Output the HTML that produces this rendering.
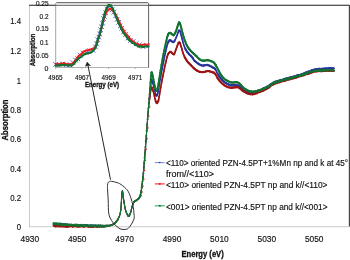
<!DOCTYPE html>
<html><head><meta charset="utf-8"><title>XANES</title>
<style>html,body{margin:0;padding:0;background:#fff;overflow:hidden}body{width:350px;height:260px;font-family:"Liberation Sans",sans-serif}text{stroke:#111;stroke-width:.15px}text[font-weight=bold]{stroke-width:.3px}</style></head>
<body>
<svg width="350" height="260" viewBox="0 0 350 260" style="display:block;will-change:transform" font-family="'Liberation Sans', sans-serif" fill="#111">
<rect width="350" height="260" fill="#fff"/>
<path d="M29.5,5.3 V226.8 H349" fill="none" stroke="#cbcbcb" stroke-width="1.1"/>
<path d="M29,5.3 H349.4" fill="none" stroke="#4a4a4a" stroke-width="0.9"/>
<path d="M349.45,4.9 V226.6" fill="none" stroke="#454545" stroke-width="1.3"/>
<text x="21.1" y="230.4" font-size="8.4" text-anchor="end" font-weight="normal" textLength="4.3" lengthAdjust="spacingAndGlyphs" >0</text>
<text x="21.1" y="201.0" font-size="8.4" text-anchor="end" font-weight="normal" textLength="10.9" lengthAdjust="spacingAndGlyphs" >0.2</text>
<text x="21.1" y="171.6" font-size="8.4" text-anchor="end" font-weight="normal" textLength="10.9" lengthAdjust="spacingAndGlyphs" >0.4</text>
<text x="21.1" y="142.20000000000002" font-size="8.4" text-anchor="end" font-weight="normal" textLength="10.9" lengthAdjust="spacingAndGlyphs" >0.6</text>
<text x="21.1" y="113.30000000000001" font-size="8.4" text-anchor="end" font-weight="normal" textLength="10.9" lengthAdjust="spacingAndGlyphs" >0.8</text>
<text x="21.1" y="83.7" font-size="8.4" text-anchor="end" font-weight="normal" textLength="4.3" lengthAdjust="spacingAndGlyphs" >1</text>
<text x="21.1" y="54.4" font-size="8.4" text-anchor="end" font-weight="normal" textLength="10.9" lengthAdjust="spacingAndGlyphs" >1.2</text>
<text x="21.1" y="24.299999999999997" font-size="8.4" text-anchor="end" font-weight="normal" textLength="10.9" lengthAdjust="spacingAndGlyphs" >1.4</text>
<text x="29.8" y="242.2" font-size="8.4" text-anchor="middle" font-weight="normal" textLength="18.6" lengthAdjust="spacingAndGlyphs" >4930</text>
<text x="77.2" y="242.2" font-size="8.4" text-anchor="middle" font-weight="normal" textLength="18.6" lengthAdjust="spacingAndGlyphs" >4950</text>
<text x="124.6" y="242.2" font-size="8.4" text-anchor="middle" font-weight="normal" textLength="18.6" lengthAdjust="spacingAndGlyphs" >4970</text>
<text x="172" y="242.2" font-size="8.4" text-anchor="middle" font-weight="normal" textLength="18.6" lengthAdjust="spacingAndGlyphs" >4990</text>
<text x="219.4" y="242.2" font-size="8.4" text-anchor="middle" font-weight="normal" textLength="18.6" lengthAdjust="spacingAndGlyphs" >5010</text>
<text x="266.8" y="242.2" font-size="8.4" text-anchor="middle" font-weight="normal" textLength="18.6" lengthAdjust="spacingAndGlyphs" >5030</text>
<text x="314.2" y="242.2" font-size="8.4" text-anchor="middle" font-weight="normal" textLength="18.6" lengthAdjust="spacingAndGlyphs" >5050</text>
<text x="202.6" y="257.3" font-size="8.8" text-anchor="middle" font-weight="bold" textLength="42.3" lengthAdjust="spacingAndGlyphs" >Energy (eV)</text>
<text transform="translate(7.6,120) rotate(-90)" font-size="8.8" text-anchor="middle" font-weight="bold" textLength="41" lengthAdjust="spacingAndGlyphs">Absorption</text>
<path d="M53.63,224.49 L54.05,224.25 L54.47,225.00 L54.89,224.94 L55.31,224.81 L55.73,224.46 L56.15,224.03 L56.57,224.26 L56.99,223.78 L57.41,223.70 L57.83,224.10 L58.25,224.04 L58.67,223.66 L59.09,224.12 L59.51,223.81 L59.93,224.51 L60.35,224.62 L60.77,224.26 L61.19,224.68 L61.61,223.88 L62.03,224.39 L62.45,223.94 L62.87,224.38 L63.29,224.05 L63.71,224.12 L64.13,224.67 L64.55,224.30 L64.97,224.20 L65.39,224.35 L65.81,224.52 L66.23,224.68 L66.65,224.41 L67.07,224.92 L67.49,224.77 L67.91,224.82 L68.33,224.71 L68.75,225.18 L69.17,224.97 L69.59,224.53 L70.01,225.15 L70.43,225.46 L70.85,224.97 L71.27,225.42 L71.69,224.83 L72.11,225.10 L72.53,224.97 L72.95,225.00 L73.37,225.39 L73.79,225.14 L74.21,225.62 L74.63,225.19 L75.05,224.70 L75.47,225.03 L75.89,225.58 L76.31,225.11 L76.73,224.71 L77.15,224.97 L77.57,224.79 L77.99,225.82 L78.41,225.81 L78.83,225.64 L79.25,225.44 L79.67,225.64 L80.09,225.00 L80.51,225.15 L80.93,225.42 L81.35,225.25 L81.77,224.92 L82.19,225.97 L82.61,225.39 L83.03,225.47 L83.45,225.29 L83.87,225.24 L84.29,225.39 L84.71,225.89 L85.13,225.80 L85.55,225.42 L85.97,225.04 L86.39,225.91 L86.81,225.35 L87.23,225.70 L87.65,225.11 L88.07,225.82 L88.49,225.53 L88.91,225.66 L89.33,225.59 L89.75,225.53 L90.17,225.76 L90.59,226.24 L91.01,225.30 L91.43,225.53 L91.85,225.25 L92.27,226.02 L92.69,225.94 L93.11,225.46 L93.53,225.70 L93.95,225.95 L94.37,225.98 L94.79,225.45 L95.21,226.24 L95.63,226.13 L96.05,225.43 L96.47,226.25 L96.89,226.12 L97.31,226.18 L97.73,225.91 L98.15,225.56 L98.57,226.34 L98.99,225.98 L99.41,225.72 L99.83,225.64 L100.25,226.36 L100.67,225.83 L101.09,225.98 L101.51,226.07 L101.93,226.33 L102.35,226.13 L102.77,225.66 L103.19,226.14 L103.61,226.04 L104.03,226.12 L104.45,226.29 L104.87,225.78 L105.29,225.91 L105.71,225.85 L106.13,225.89 L106.55,225.73 L106.97,225.96 L107.39,225.77 L107.81,225.68 L108.23,225.58 L108.65,225.61 L109.07,225.51 L109.49,225.47 L109.91,225.47 L110.33,225.41 L110.75,225.44 L111.17,225.39 L111.59,224.84 L112.01,224.76 L112.43,224.76 L112.85,224.34 L113.27,224.42 L113.69,223.87 L114.11,223.81 L114.53,223.45 L114.95,223.16 L115.37,222.42 L115.79,222.08 L116.21,221.82 L116.63,221.04 L117.05,220.45 L117.47,219.97 L117.89,219.37 L118.31,218.35 L118.73,217.49 L119.15,216.49 L119.57,215.52 L119.99,214.28 L120.41,212.26 L120.83,209.85 L121.25,203.74 L121.67,197.45 L122.09,192.07 L122.51,190.93 L122.93,194.04 L123.35,197.72 L123.77,200.50 L124.19,203.16 L124.61,205.59 L125.03,207.81 L125.45,209.69 L125.87,210.95 L126.29,212.17 L126.71,213.27 L127.13,214.23 L127.55,215.02 L127.97,215.77 L128.39,216.14 L128.81,216.28 L129.23,215.52 L129.65,214.82 L130.07,214.00 L130.49,212.97 L130.91,211.49 L131.33,209.93 L131.75,207.88 L132.17,206.50 L132.59,205.00 L133.01,203.94 L133.43,203.43 L133.85,202.29 L134.27,201.92 L134.69,201.28 L135.11,200.90 L135.53,200.70 L135.95,200.68 L136.37,200.29 L136.79,200.20 L137.21,199.84 L137.63,199.42 L138.05,199.12 L138.47,198.68 L138.89,198.20 L139.31,197.82 L139.73,197.03 L140.15,195.99 L140.57,194.36 L140.99,192.52 L141.41,190.15 L141.83,186.98 L142.25,183.45 L142.67,179.82 L143.09,176.05 L143.51,171.45 L143.93,166.77 L144.35,161.51 L144.77,155.99 L145.19,150.70 L145.61,145.36 L146.03,139.92 L146.45,134.17 L146.87,128.94 L147.29,123.30 L147.71,117.13 L148.13,111.72 L148.55,107.04 L148.97,102.46 L149.39,98.42" fill="none" stroke="#28339c" stroke-width="1.0" stroke-linejoin="round" stroke-linecap="round"/><path d="M149.39,98.42 L149.81,94.07 L150.23,89.73 L150.65,85.57 L151.07,81.03 L151.49,79.05 L151.91,80.08 L152.33,81.41 L152.75,82.93 L153.17,84.13 L153.59,85.51 L154.01,87.47 L154.43,89.24 L154.85,91.12 L155.27,93.16 L155.69,94.45 L156.11,95.21 L156.53,95.68 L156.95,95.47 L157.37,94.21 L157.79,93.12 L158.21,91.09 L158.63,88.38 L159.05,86.10 L159.47,83.38 L159.89,80.79 L160.31,78.64 L160.73,76.26 L161.15,73.94 L161.57,71.65 L161.99,69.47 L162.41,67.36 L162.83,65.25 L163.25,62.83 L163.67,60.96 L164.09,58.59 L164.51,56.57 L164.93,54.81 L165.35,52.94 L165.77,51.11 L166.19,49.17 L166.61,47.39 L167.03,45.63 L167.45,44.40 L167.87,43.00 L168.29,42.14 L168.71,41.38 L169.13,40.82 L169.55,40.19 L169.97,40.35 L170.39,40.39 L170.81,40.48 L171.23,40.75 L171.65,41.16 L172.07,41.61 L172.49,41.95 L172.91,42.08 L173.33,42.14 L173.75,41.79 L174.17,41.60 L174.59,40.81 L175.01,39.89 L175.43,39.29 L175.85,38.30 L176.27,37.19 L176.69,36.22 L177.11,35.19 L177.53,33.91 L177.95,32.77 L178.37,31.70 L178.79,30.67 L179.21,30.67 L179.63,30.55 L180.05,31.55 L180.47,32.70 L180.89,34.22 L181.31,35.93 L181.73,37.21 L182.15,39.08 L182.57,40.52 L182.99,42.11 L183.41,43.74 L183.83,45.04 L184.25,46.00 L184.67,47.42 L185.09,48.29 L185.51,49.11 L185.93,49.83 L186.35,50.51 L186.77,51.42 L187.19,51.90 L187.61,52.40 L188.03,52.73 L188.45,53.35 L188.87,54.17 L189.29,54.49 L189.71,54.85 L190.13,55.11 L190.55,55.61 L190.97,56.01 L191.39,56.39 L191.81,56.91 L192.23,57.35 L192.65,57.88 L193.07,58.55 L193.49,59.38 L193.91,59.79 L194.33,60.70 L194.75,60.82 L195.17,61.32 L195.59,61.66 L196.01,61.95 L196.43,62.29 L196.85,62.56 L197.27,62.89 L197.69,63.11 L198.11,63.64 L198.53,63.89 L198.95,64.00 L199.37,64.49 L199.79,64.49 L200.21,64.79 L200.63,64.92 L201.05,64.98 L201.47,65.37 L201.89,65.43 L202.31,65.51 L202.73,65.62 L203.15,65.24 L203.57,65.49 L203.99,65.70 L204.41,65.30 L204.83,65.27 L205.25,65.29 L205.67,65.25 L206.09,65.00 L206.51,64.90 L206.93,65.06 L207.35,64.74 L207.77,65.12 L208.19,65.07 L208.61,65.31 L209.03,65.52 L209.45,65.45 L209.87,66.02 L210.29,66.21 L210.71,66.25 L211.13,66.41 L211.55,66.60 L211.97,66.95 L212.39,67.37 L212.81,67.64 L213.23,67.59 L213.65,67.67 L214.07,67.87 L214.49,68.48 L214.91,68.60 L215.33,69.24 L215.75,70.19 L216.17,70.72 L216.59,71.58 L217.01,72.64 L217.43,73.24 L217.85,74.16 L218.27,74.92 L218.69,75.50 L219.11,76.14 L219.53,76.77 L219.95,77.61 L220.37,77.79 L220.79,78.36 L221.21,78.97 L221.63,79.40 L222.05,80.00 L222.47,80.41 L222.89,80.80 L223.31,81.09 L223.73,81.54 L224.15,82.00 L224.57,82.33 L224.99,82.50 L225.41,82.91 L225.83,82.84 L226.25,83.15 L226.67,83.65 L227.09,83.73 L227.51,83.92 L227.93,84.24 L228.35,84.35 L228.77,84.76 L229.19,84.69 L229.61,85.02 L230.03,85.03 L230.45,85.27 L230.87,85.16 L231.29,85.43 L231.71,85.31 L232.13,85.11 L232.55,85.42 L232.97,85.45 L233.39,85.06 L233.81,85.38 L234.23,85.14 L234.65,85.16 L235.07,84.89 L235.49,85.18 L235.91,85.06 L236.33,85.06 L236.75,85.30 L237.17,85.20 L237.59,85.30 L238.01,85.24 L238.43,85.65 L238.85,85.98 L239.27,86.09 L239.69,86.56 L240.11,86.90 L240.53,87.18 L240.95,87.78 L241.37,88.20 L241.79,88.58 L242.21,89.14 L242.63,89.26 L243.05,89.73 L243.47,90.05 L243.89,90.56 L244.31,90.69 L244.73,90.89 L245.15,90.91 L245.57,91.24 L245.99,91.41 L246.41,91.85 L246.83,91.81 L247.25,92.15 L247.67,92.22 L248.09,92.46 L248.51,92.21 L248.93,92.75 L249.35,92.88 L249.77,92.64 L250.19,92.70 L250.61,92.89 L251.03,93.07 L251.45,93.10 L251.87,93.09 L252.29,93.31 L252.71,93.14 L253.13,93.27 L253.55,93.05 L253.97,92.79 L254.39,93.03 L254.81,92.90 L255.23,92.50 L255.65,92.57 L256.07,92.31 L256.49,91.82 L256.91,91.92 L257.33,91.80 L257.75,91.59 L258.17,91.38 L258.59,91.24 L259.01,91.13 L259.43,90.99 L259.85,90.31 L260.27,90.69 L260.69,90.17 L261.11,90.14 L261.53,89.72 L261.95,89.28 L262.37,89.06 L262.79,88.65 L263.21,88.58 L263.63,88.18 L264.05,87.95 L264.47,87.83 L264.89,88.02 L265.31,87.90 L265.73,87.75 L266.15,87.17 L266.57,87.23 L266.99,86.60 L267.41,86.80 L267.83,86.35 L268.25,86.42 L268.67,85.72 L269.09,85.89 L269.51,85.08 L269.93,85.31 L270.35,84.70 L270.77,84.20 L271.19,84.01 L271.61,84.00 L272.03,83.54 L272.45,83.14 L272.87,82.90 L273.29,82.99 L273.71,82.75 L274.13,82.15 L274.55,82.49 L274.97,81.85 L275.39,81.76 L275.81,81.45 L276.23,81.65 L276.65,81.74 L277.07,81.66 L277.49,81.20 L277.91,80.81 L278.33,80.94 L278.75,80.68 L279.17,80.57 L279.59,80.40 L280.01,80.77 L280.43,80.26 L280.85,79.87 L281.27,80.09 L281.69,80.12 L282.11,80.08 L282.53,79.92 L282.95,79.76 L283.37,79.29 L283.79,79.28 L284.21,79.24 L284.63,78.90 L285.05,78.98 L285.47,78.64 L285.89,78.51 L286.31,78.91 L286.73,78.33 L287.15,78.42 L287.57,78.40 L287.99,78.50 L288.41,77.94 L288.83,77.74 L289.25,78.11 L289.67,77.59 L290.09,77.46 L290.51,77.25 L290.93,77.35 L291.35,77.08 L291.77,77.06 L292.19,76.93 L292.61,77.02 L293.03,76.78 L293.45,76.83 L293.87,76.46 L294.29,76.36 L294.71,76.72 L295.13,76.07 L295.55,76.33 L295.97,76.17 L296.39,76.01 L296.81,75.53 L297.23,75.33 L297.65,75.73 L298.07,75.15 L298.49,75.14 L298.91,75.53 L299.33,75.39 L299.75,75.23 L300.17,74.86 L300.59,74.64 L301.01,74.50 L301.43,74.27 L301.85,74.56 L302.27,74.30 L302.69,74.27 L303.11,73.63 L303.53,73.66 L303.95,73.57 L304.37,73.20 L304.79,73.17 L305.21,72.73 L305.63,72.65 L306.05,72.36 L306.47,72.56 L306.89,72.18 L307.31,72.10 L307.73,71.91 L308.15,71.53 L308.57,71.96 L308.99,71.68 L309.41,71.23 L309.83,71.47 L310.25,71.15 L310.67,71.21 L311.09,70.68 L311.51,70.28 L311.93,70.14 L312.35,70.43 L312.77,70.17 L313.19,69.78 L313.61,69.89 L314.03,69.76 L314.45,69.88 L314.87,69.22 L315.29,69.18 L315.71,69.34 L316.13,69.06 L316.55,69.60 L316.97,68.99 L317.39,69.24 L317.81,69.08 L318.23,69.29 L318.65,68.75 L319.07,68.91 L319.49,68.99 L319.91,68.72 L320.33,69.07 L320.75,68.97 L321.17,69.15 L321.59,68.86 L322.01,68.73 L322.43,68.71 L322.85,68.62 L323.27,69.08 L323.69,68.95 L324.11,68.60 L324.53,68.64 L324.95,68.37 L325.37,68.68 L325.79,68.75 L326.21,68.37 L326.63,68.49 L327.05,68.62 L327.47,68.43 L327.89,68.48 L328.31,68.21 L328.73,68.61 L329.15,68.11 L329.57,68.34 L329.99,68.20 L330.41,68.06 L330.83,68.58 L331.25,68.13 L331.67,68.32 L332.09,68.43 L332.51,68.21 L332.93,68.38 L333.35,68.44 L333.77,68.40" fill="none" stroke="#28339c" stroke-width="1.65" stroke-linejoin="round" stroke-linecap="round"/><path d="M53.63,224.49 L54.05,224.25 L54.47,225.00 L54.89,224.94 L55.31,224.81 L55.73,224.46 L56.15,224.03 L56.57,224.26 L56.99,223.78 L57.41,223.70 L57.83,224.10 L58.25,224.04 L58.67,223.66 L59.09,224.12 L59.51,223.81 L59.93,224.51 L60.35,224.62 L60.77,224.26 L61.19,224.68M61.61,223.88 L62.03,224.39 L62.45,223.94 L62.87,224.38 L63.29,224.05 L63.71,224.12 L64.13,224.67 L64.55,224.30 L64.97,224.20 L65.39,224.35 L65.81,224.52 L66.23,224.68 L66.65,224.41 L67.07,224.92 L67.49,224.77 L67.91,224.82 L68.33,224.71 L68.75,225.18 L69.17,224.97 L69.59,224.53 L70.01,225.15 L70.43,225.46 L70.85,224.97 L71.27,225.42 L71.69,224.83 L72.11,225.10 L72.53,224.97 L72.95,225.00 L73.37,225.39 L73.79,225.14 L74.21,225.62 L74.63,225.19 L75.05,224.70 L75.47,225.03 L75.89,225.58 L76.31,225.11 L76.73,224.71 L77.15,224.97 L77.57,224.79M77.99,225.82 L78.41,225.81 L78.83,225.64 L79.25,225.44 L79.67,225.64 L80.09,225.00 L80.51,225.15 L80.93,225.42 L81.35,225.25 L81.77,224.92M82.19,225.97 L82.61,225.39 L83.03,225.47 L83.45,225.29 L83.87,225.24 L84.29,225.39 L84.71,225.89 L85.13,225.80 L85.55,225.42 L85.97,225.04M86.39,225.91 L86.81,225.35 L87.23,225.70 L87.65,225.11 L88.07,225.82 L88.49,225.53 L88.91,225.66 L89.33,225.59 L89.75,225.53 L90.17,225.76 L90.59,226.24M91.01,225.30 L91.43,225.53 L91.85,225.25 L92.27,226.02 L92.69,225.94 L93.11,225.46 L93.53,225.70 L93.95,225.95 L94.37,225.98 L94.79,225.45 L95.21,226.24 L95.63,226.13 L96.05,225.43M96.47,226.25 L96.89,226.12 L97.31,226.18 L97.73,225.91 L98.15,225.56 L98.57,226.34 L98.99,225.98 L99.41,225.72 L99.83,225.64 L100.25,226.36 L100.67,225.83 L101.09,225.98 L101.51,226.07 L101.93,226.33 L102.35,226.13 L102.77,225.66 L103.19,226.14 L103.61,226.04 L104.03,226.12 L104.45,226.29 L104.87,225.78 L105.29,225.91 L105.71,225.85 L106.13,225.89 L106.55,225.73 L106.97,225.96 L107.39,225.77M155.69,94.45 L156.11,95.21 L156.53,95.68 L156.95,95.47M168.29,42.14 L168.71,41.38 L169.13,40.82 L169.55,40.19 L169.97,40.35 L170.39,40.39 L170.81,40.48 L171.23,40.75 L171.65,41.16 L172.07,41.61 L172.49,41.95 L172.91,42.08 L173.33,42.14 L173.75,41.79 L174.17,41.60 L174.59,40.81M178.79,30.67 L179.21,30.67 L179.63,30.55M185.51,49.11 L185.93,49.83 L186.35,50.51M186.77,51.42 L187.19,51.90 L187.61,52.40 L188.03,52.73 L188.45,53.35M188.87,54.17 L189.29,54.49 L189.71,54.85 L190.13,55.11 L190.55,55.61 L190.97,56.01 L191.39,56.39 L191.81,56.91 L192.23,57.35 L192.65,57.88 L193.07,58.55M194.33,60.70 L194.75,60.82 L195.17,61.32 L195.59,61.66 L196.01,61.95 L196.43,62.29 L196.85,62.56 L197.27,62.89 L197.69,63.11 L198.11,63.64 L198.53,63.89 L198.95,64.00 L199.37,64.49 L199.79,64.49 L200.21,64.79 L200.63,64.92 L201.05,64.98 L201.47,65.37 L201.89,65.43 L202.31,65.51 L202.73,65.62 L203.15,65.24 L203.57,65.49 L203.99,65.70 L204.41,65.30 L204.83,65.27 L205.25,65.29 L205.67,65.25 L206.09,65.00 L206.51,64.90 L206.93,65.06 L207.35,64.74 L207.77,65.12 L208.19,65.07 L208.61,65.31 L209.03,65.52 L209.45,65.45 L209.87,66.02 L210.29,66.21 L210.71,66.25 L211.13,66.41 L211.55,66.60 L211.97,66.95 L212.39,67.37 L212.81,67.64 L213.23,67.59 L213.65,67.67 L214.07,67.87 L214.49,68.48 L214.91,68.60 L215.33,69.24M217.85,74.16 L218.27,74.92 L218.69,75.50 L219.11,76.14 L219.53,76.77M219.95,77.61 L220.37,77.79 L220.79,78.36 L221.21,78.97 L221.63,79.40 L222.05,80.00 L222.47,80.41 L222.89,80.80 L223.31,81.09 L223.73,81.54 L224.15,82.00 L224.57,82.33 L224.99,82.50 L225.41,82.91 L225.83,82.84 L226.25,83.15 L226.67,83.65 L227.09,83.73 L227.51,83.92 L227.93,84.24 L228.35,84.35 L228.77,84.76 L229.19,84.69 L229.61,85.02 L230.03,85.03 L230.45,85.27 L230.87,85.16 L231.29,85.43 L231.71,85.31 L232.13,85.11 L232.55,85.42 L232.97,85.45 L233.39,85.06 L233.81,85.38 L234.23,85.14 L234.65,85.16 L235.07,84.89 L235.49,85.18 L235.91,85.06 L236.33,85.06 L236.75,85.30 L237.17,85.20 L237.59,85.30 L238.01,85.24 L238.43,85.65 L238.85,85.98 L239.27,86.09 L239.69,86.56 L240.11,86.90 L240.53,87.18 L240.95,87.78 L241.37,88.20 L241.79,88.58 L242.21,89.14 L242.63,89.26 L243.05,89.73 L243.47,90.05 L243.89,90.56 L244.31,90.69 L244.73,90.89 L245.15,90.91 L245.57,91.24 L245.99,91.41 L246.41,91.85 L246.83,91.81 L247.25,92.15 L247.67,92.22 L248.09,92.46 L248.51,92.21 L248.93,92.75 L249.35,92.88 L249.77,92.64 L250.19,92.70 L250.61,92.89 L251.03,93.07 L251.45,93.10 L251.87,93.09 L252.29,93.31 L252.71,93.14 L253.13,93.27 L253.55,93.05 L253.97,92.79 L254.39,93.03 L254.81,92.90 L255.23,92.50 L255.65,92.57 L256.07,92.31 L256.49,91.82 L256.91,91.92 L257.33,91.80 L257.75,91.59 L258.17,91.38 L258.59,91.24 L259.01,91.13 L259.43,90.99 L259.85,90.31 L260.27,90.69 L260.69,90.17 L261.11,90.14 L261.53,89.72 L261.95,89.28 L262.37,89.06 L262.79,88.65 L263.21,88.58 L263.63,88.18 L264.05,87.95 L264.47,87.83 L264.89,88.02 L265.31,87.90 L265.73,87.75 L266.15,87.17 L266.57,87.23 L266.99,86.60 L267.41,86.80 L267.83,86.35 L268.25,86.42 L268.67,85.72 L269.09,85.89M269.51,85.08 L269.93,85.31 L270.35,84.70 L270.77,84.20 L271.19,84.01 L271.61,84.00 L272.03,83.54 L272.45,83.14 L272.87,82.90 L273.29,82.99 L273.71,82.75 L274.13,82.15 L274.55,82.49 L274.97,81.85 L275.39,81.76 L275.81,81.45 L276.23,81.65 L276.65,81.74 L277.07,81.66 L277.49,81.20 L277.91,80.81 L278.33,80.94 L278.75,80.68 L279.17,80.57 L279.59,80.40 L280.01,80.77 L280.43,80.26 L280.85,79.87 L281.27,80.09 L281.69,80.12 L282.11,80.08 L282.53,79.92 L282.95,79.76 L283.37,79.29 L283.79,79.28 L284.21,79.24 L284.63,78.90 L285.05,78.98 L285.47,78.64 L285.89,78.51 L286.31,78.91 L286.73,78.33 L287.15,78.42 L287.57,78.40 L287.99,78.50 L288.41,77.94 L288.83,77.74 L289.25,78.11 L289.67,77.59 L290.09,77.46 L290.51,77.25 L290.93,77.35 L291.35,77.08 L291.77,77.06 L292.19,76.93 L292.61,77.02 L293.03,76.78 L293.45,76.83 L293.87,76.46 L294.29,76.36 L294.71,76.72 L295.13,76.07 L295.55,76.33 L295.97,76.17 L296.39,76.01 L296.81,75.53 L297.23,75.33 L297.65,75.73 L298.07,75.15 L298.49,75.14 L298.91,75.53 L299.33,75.39 L299.75,75.23 L300.17,74.86 L300.59,74.64 L301.01,74.50 L301.43,74.27 L301.85,74.56 L302.27,74.30 L302.69,74.27 L303.11,73.63 L303.53,73.66 L303.95,73.57 L304.37,73.20 L304.79,73.17 L305.21,72.73 L305.63,72.65 L306.05,72.36 L306.47,72.56 L306.89,72.18 L307.31,72.10 L307.73,71.91 L308.15,71.53 L308.57,71.96 L308.99,71.68 L309.41,71.23 L309.83,71.47 L310.25,71.15 L310.67,71.21 L311.09,70.68 L311.51,70.28 L311.93,70.14 L312.35,70.43 L312.77,70.17 L313.19,69.78 L313.61,69.89 L314.03,69.76 L314.45,69.88 L314.87,69.22 L315.29,69.18 L315.71,69.34 L316.13,69.06 L316.55,69.60 L316.97,68.99 L317.39,69.24 L317.81,69.08 L318.23,69.29 L318.65,68.75 L319.07,68.91 L319.49,68.99 L319.91,68.72 L320.33,69.07 L320.75,68.97 L321.17,69.15 L321.59,68.86 L322.01,68.73 L322.43,68.71 L322.85,68.62 L323.27,69.08 L323.69,68.95 L324.11,68.60 L324.53,68.64 L324.95,68.37 L325.37,68.68 L325.79,68.75 L326.21,68.37 L326.63,68.49 L327.05,68.62 L327.47,68.43 L327.89,68.48 L328.31,68.21 L328.73,68.61 L329.15,68.11 L329.57,68.34 L329.99,68.20 L330.41,68.06 L330.83,68.58 L331.25,68.13 L331.67,68.32 L332.09,68.43 L332.51,68.21 L332.93,68.38 L333.35,68.44 L333.77,68.40" fill="none" stroke="#28339c" stroke-width="2.1" stroke-linejoin="round" stroke-linecap="round"/><path d="M106.97,225.96 L107.39,225.77 L107.81,225.68 L108.23,225.58 L108.65,225.61 L109.07,225.51 L109.49,225.47 L109.91,225.47 L110.33,225.41 L110.75,225.44 L111.17,225.39 L111.59,224.84 L112.01,224.76 L112.43,224.76 L112.85,224.34 L113.27,224.42 L113.69,223.87 L114.11,223.81 L114.53,223.45 L114.95,223.16 L115.37,222.42 L115.79,222.08 L116.21,221.82 L116.63,221.04 L117.05,220.45 L117.47,219.97 L117.89,219.37M127.55,215.02 L127.97,215.77 L128.39,216.14 L128.81,216.28 L129.23,215.52 L129.65,214.82M133.85,202.29 L134.27,201.92 L134.69,201.28 L135.11,200.90 L135.53,200.70 L135.95,200.68 L136.37,200.29 L136.79,200.20 L137.21,199.84 L137.63,199.42 L138.05,199.12 L138.47,198.68 L138.89,198.20 L139.31,197.82 L139.73,197.03" fill="none" stroke="#28339c" stroke-width="1.51" stroke-linejoin="round" stroke-linecap="round"/><path d="M61.19,224.68h0M61.61,223.88h0M77.57,224.79h0M77.99,225.82h0M81.77,224.92h0M82.19,225.97h0M85.97,225.04h0M86.39,225.91h0M90.59,226.24h0M91.01,225.30h0M96.05,225.43h0M96.47,226.25h0M117.89,219.37h0M118.31,218.35h0M118.73,217.49h0M119.15,216.49h0M119.57,215.52h0M119.99,214.28h0M120.41,212.26h0M120.83,209.85h0M121.25,203.74h0M121.67,197.45h0M122.09,192.07h0M122.51,190.93h0M122.93,194.04h0M123.35,197.72h0M123.77,200.50h0M124.19,203.16h0M124.61,205.59h0M125.03,207.81h0M125.45,209.69h0M125.87,210.95h0M126.29,212.17h0M126.71,213.27h0M127.13,214.23h0M127.55,215.02h0M129.65,214.82h0M130.07,214.00h0M130.49,212.97h0M130.91,211.49h0M131.33,209.93h0M131.75,207.88h0M132.17,206.50h0M132.59,205.00h0M133.01,203.94h0M133.43,203.43h0M133.85,202.29h0" fill="none" stroke="#28339c" stroke-width="0.94" stroke-linecap="round"/><path d="M139.73,197.03h0M140.15,195.99h0M140.57,194.36h0M140.99,192.52h0M141.41,190.15h0M141.83,186.98h0M142.25,183.45h0M142.67,179.82h0M143.09,176.05h0M143.51,171.45h0M143.93,166.77h0M144.35,161.51h0M144.77,155.99h0M145.19,150.70h0M145.61,145.36h0M146.03,139.92h0M146.45,134.17h0M146.87,128.94h0M147.29,123.30h0M147.71,117.13h0M148.13,111.72h0M148.55,107.04h0" fill="none" stroke="#28339c" stroke-width="1.30" stroke-linecap="round"/><path d="M148.97,102.46h0M149.39,98.42h0M149.81,94.07h0M150.23,89.73h0M150.65,85.57h0M151.07,81.03h0M151.49,79.05h0M151.91,80.08h0M152.33,81.41h0M152.75,82.93h0M153.17,84.13h0M153.59,85.51h0M154.01,87.47h0M154.43,89.24h0M154.85,91.12h0M155.27,93.16h0M155.69,94.45h0M156.95,95.47h0M157.37,94.21h0M157.79,93.12h0M158.21,91.09h0M158.63,88.38h0M159.05,86.10h0M159.47,83.38h0M159.89,80.79h0M160.31,78.64h0M160.73,76.26h0M161.15,73.94h0M161.57,71.65h0M161.99,69.47h0M162.41,67.36h0M162.83,65.25h0M163.25,62.83h0M163.67,60.96h0M164.09,58.59h0M164.51,56.57h0M164.93,54.81h0M165.35,52.94h0M165.77,51.11h0M166.19,49.17h0M166.61,47.39h0M167.03,45.63h0M167.45,44.40h0M167.87,43.00h0M168.29,42.14h0M174.59,40.81h0M175.01,39.89h0M175.43,39.29h0M175.85,38.30h0M176.27,37.19h0M176.69,36.22h0M177.11,35.19h0M177.53,33.91h0M177.95,32.77h0M178.37,31.70h0M178.79,30.67h0M179.63,30.55h0M180.05,31.55h0M180.47,32.70h0M180.89,34.22h0M181.31,35.93h0M181.73,37.21h0M182.15,39.08h0M182.57,40.52h0M182.99,42.11h0M183.41,43.74h0M183.83,45.04h0M184.25,46.00h0M184.67,47.42h0M185.09,48.29h0M185.51,49.11h0M186.35,50.51h0M186.77,51.42h0M188.45,53.35h0M188.87,54.17h0M193.07,58.55h0M193.49,59.38h0M193.91,59.79h0M194.33,60.70h0M215.33,69.24h0M215.75,70.19h0M216.17,70.72h0M216.59,71.58h0M217.01,72.64h0M217.43,73.24h0M217.85,74.16h0M219.53,76.77h0M219.95,77.61h0M269.09,85.89h0M269.51,85.08h0" fill="none" stroke="#28339c" stroke-width="1.30" stroke-linecap="round"/>
<path d="M53.71,225.72 L54.13,226.02 L54.55,225.67 L54.97,226.01 L55.39,226.49 L55.81,226.55 L56.23,225.74 L56.65,225.86 L57.07,225.71 L57.49,226.16 L57.91,225.73 L58.33,226.21 L58.75,226.43 L59.17,226.04 L59.59,226.48 L60.01,226.40 L60.43,225.79 L60.85,226.38 L61.27,226.06 L61.69,226.24 L62.11,226.11 L62.53,226.57 L62.95,226.30 L63.37,225.99 L63.79,226.43 L64.21,226.69 L64.63,226.17 L65.05,226.09 L65.47,226.27 L65.89,226.88 L66.31,226.93 L66.73,226.59 L67.15,226.85 L67.57,226.79 L67.99,226.27 L68.41,225.96 L68.83,226.57 L69.25,226.47 L69.67,226.25 L70.09,226.10 L70.51,226.30 L70.93,226.36 L71.35,226.14 L71.77,226.17 L72.19,226.35 L72.61,226.79 L73.03,226.49 L73.45,226.16 L73.87,226.15 L74.29,226.35 L74.71,226.07 L75.13,226.07 L75.55,226.41 L75.97,225.95 L76.39,226.38 L76.81,226.25 L77.23,226.64 L77.65,226.68 L78.07,226.62 L78.49,226.62 L78.91,226.28 L79.33,226.61 L79.75,226.25 L80.17,226.51 L80.59,226.24 L81.01,226.38 L81.43,225.96 L81.85,226.16 L82.27,226.97 L82.69,226.16 L83.11,226.67 L83.53,226.63 L83.95,226.71 L84.37,226.44 L84.79,226.58 L85.21,226.00 L85.63,226.01 L86.05,226.15 L86.47,226.10 L86.89,226.05 L87.31,226.08 L87.73,226.55 L88.15,226.15 L88.57,226.99 L88.99,226.70 L89.41,226.54 L89.83,226.73 L90.25,226.24 L90.67,226.97 L91.09,226.87 L91.51,226.75 L91.93,226.48 L92.35,226.87 L92.77,226.77 L93.19,226.67 L93.61,226.95 L94.03,226.64 L94.45,226.34 L94.87,226.54 L95.29,226.15 L95.71,226.14 L96.13,226.72 L96.55,226.78 L96.97,226.98 L97.39,226.84 L97.81,226.50 L98.23,225.99 L98.65,226.42 L99.07,226.90 L99.49,226.73 L99.91,226.39 L100.33,226.34 L100.75,226.07 L101.17,226.01 L101.59,225.88 L102.01,226.76 L102.43,226.47 L102.85,225.90 L103.27,226.17 L103.69,225.74 L104.11,225.89 L104.53,226.42 L104.95,226.29 L105.37,226.07 L105.79,225.93 L106.21,226.04 L106.63,226.12 L107.05,225.84 L107.47,225.63 L107.89,225.57 L108.31,225.53 L108.73,225.86 L109.15,225.61 L109.57,225.67 L109.99,225.30 L110.41,225.25 L110.83,225.34 L111.25,225.31 L111.67,224.93 L112.09,224.65 L112.51,224.82 L112.93,224.35 L113.35,224.32 L113.77,223.79 L114.19,223.73 L114.61,223.46 L115.03,223.05 L115.45,222.48 L115.87,222.21 L116.29,221.47 L116.71,221.03 L117.13,220.50 L117.55,220.06 L117.97,219.03 L118.39,218.55 L118.81,217.62 L119.23,216.69 L119.65,215.26 L120.07,213.76 L120.49,211.82 L120.91,209.08 L121.33,202.37 L121.75,196.30 L122.17,191.50 L122.59,191.12 L123.01,194.79 L123.43,198.58 L123.85,200.97 L124.27,203.56 L124.69,206.22 L125.11,208.37 L125.53,209.93 L125.95,211.31 L126.37,212.49 L126.79,213.48 L127.21,214.11 L127.63,215.20 L128.05,215.79 L128.47,216.30 L128.89,215.89 L129.31,215.66 L129.73,214.76 L130.15,213.62 L130.57,212.77 L130.99,211.30 L131.41,209.54 L131.83,207.37 L132.25,205.96 L132.67,205.10 L133.09,203.87 L133.51,203.08 L133.93,202.18 L134.35,201.95 L134.77,201.30 L135.19,201.11 L135.61,200.50 L136.03,200.44 L136.45,200.02 L136.87,200.14 L137.29,199.66 L137.71,199.17 L138.13,198.87 L138.55,198.75 L138.97,198.14 L139.39,197.57 L139.81,196.76 L140.23,195.54 L140.65,193.97 L141.07,192.00 L141.49,189.33 L141.91,186.15 L142.33,182.50 L142.75,179.17 L143.17,175.38 L143.59,170.47 L144.01,165.45 L144.43,160.21 L144.85,154.98 L145.27,149.36 L145.69,143.93 L146.11,138.66 L146.53,133.06 L146.95,127.79 L147.37,122.00 L147.79,116.00 L148.21,110.98 L148.63,106.64 L149.05,102.75 L149.47,99.44" fill="none" stroke="#9c1414" stroke-width="1.0" stroke-linejoin="round" stroke-linecap="round"/><path d="M149.47,99.44 L149.89,96.03 L150.31,92.93 L150.73,90.20 L151.15,88.24 L151.57,87.46 L151.99,87.53 L152.41,88.71 L152.83,90.17 L153.25,91.22 L153.67,92.62 L154.09,94.45 L154.51,96.30 L154.93,98.37 L155.35,99.86 L155.77,101.37 L156.19,102.16 L156.61,102.87 L157.03,103.17 L157.45,102.50 L157.87,101.77 L158.29,101.02 L158.71,99.16 L159.13,96.64 L159.55,94.25 L159.97,91.67 L160.39,89.11 L160.81,86.90 L161.23,84.33 L161.65,82.41 L162.07,79.89 L162.49,78.10 L162.91,75.90 L163.33,73.70 L163.75,71.74 L164.17,69.63 L164.59,67.78 L165.01,65.54 L165.43,63.79 L165.85,62.08 L166.27,60.30 L166.69,58.26 L167.11,56.70 L167.53,55.63 L167.95,54.37 L168.37,53.55 L168.79,53.21 L169.21,52.54 L169.63,52.27 L170.05,51.89 L170.47,51.80 L170.89,51.88 L171.31,52.13 L171.73,52.80 L172.15,53.12 L172.57,53.51 L172.99,53.91 L173.41,54.07 L173.83,54.44 L174.25,53.98 L174.67,52.98 L175.09,51.94 L175.51,50.57 L175.93,49.66 L176.35,48.24 L176.77,47.35 L177.19,46.08 L177.61,44.91 L178.03,44.04 L178.45,43.03 L178.87,42.42 L179.29,42.23 L179.71,42.68 L180.13,43.18 L180.55,44.69 L180.97,46.04 L181.39,47.33 L181.81,48.66 L182.23,50.15 L182.65,51.78 L183.07,52.98 L183.49,54.26 L183.91,55.48 L184.33,56.23 L184.75,57.27 L185.17,57.94 L185.59,58.70 L186.01,59.34 L186.43,60.07 L186.85,60.67 L187.27,61.35 L187.69,61.87 L188.11,62.44 L188.53,62.72 L188.95,63.32 L189.37,63.52 L189.79,64.09 L190.21,64.44 L190.63,64.92 L191.05,65.21 L191.47,65.95 L191.89,66.33 L192.31,66.50 L192.73,67.10 L193.15,67.73 L193.57,67.72 L193.99,68.22 L194.41,68.79 L194.83,68.82 L195.25,69.45 L195.67,69.68 L196.09,70.04 L196.51,70.23 L196.93,70.66 L197.35,70.65 L197.77,70.98 L198.19,70.96 L198.61,71.39 L199.03,71.51 L199.45,71.92 L199.87,72.05 L200.29,71.81 L200.71,71.85 L201.13,71.93 L201.55,71.99 L201.97,72.23 L202.39,72.13 L202.81,72.10 L203.23,72.03 L203.65,71.79 L204.07,71.90 L204.49,72.08 L204.91,71.88 L205.33,71.64 L205.75,71.34 L206.17,71.53 L206.59,71.20 L207.01,71.20 L207.43,70.98 L207.85,71.03 L208.27,71.07 L208.69,71.15 L209.11,71.06 L209.53,71.43 L209.95,71.32 L210.37,71.62 L210.79,71.75 L211.21,71.91 L211.63,71.87 L212.05,72.01 L212.47,72.37 L212.89,72.35 L213.31,72.36 L213.73,72.80 L214.15,72.62 L214.57,73.38 L214.99,73.60 L215.41,74.21 L215.83,75.14 L216.25,75.62 L216.67,76.48 L217.09,77.10 L217.51,78.05 L217.93,78.68 L218.35,79.25 L218.77,79.70 L219.19,80.38 L219.61,80.95 L220.03,81.34 L220.45,81.89 L220.87,82.17 L221.29,82.69 L221.71,83.08 L222.13,83.50 L222.55,83.87 L222.97,84.20 L223.39,84.39 L223.81,84.71 L224.23,85.19 L224.65,85.25 L225.07,85.69 L225.49,86.06 L225.91,86.28 L226.33,86.36 L226.75,86.47 L227.17,86.82 L227.59,87.05 L228.01,87.15 L228.43,87.23 L228.85,87.41 L229.27,87.36 L229.69,87.54 L230.11,87.54 L230.53,87.82 L230.95,87.98 L231.37,87.64 L231.79,87.59 L232.21,87.89 L232.63,87.68 L233.05,87.67 L233.47,87.39 L233.89,87.34 L234.31,87.46 L234.73,87.32 L235.15,87.34 L235.57,87.33 L235.99,87.04 L236.41,87.16 L236.83,87.09 L237.25,87.15 L237.67,87.17 L238.09,87.53 L238.51,87.52 L238.93,87.50 L239.35,87.98 L239.77,88.38 L240.19,88.69 L240.61,88.91 L241.03,89.06 L241.45,89.80 L241.87,90.24 L242.29,90.52 L242.71,90.72 L243.13,91.00 L243.55,91.43 L243.97,91.41 L244.39,91.97 L244.81,92.08 L245.23,92.13 L245.65,92.69 L246.07,92.71 L246.49,92.79 L246.91,93.00 L247.33,93.48 L247.75,93.34 L248.17,93.75 L248.59,93.88 L249.01,93.68 L249.43,93.93 L249.85,94.17 L250.27,94.11 L250.69,94.33 L251.11,94.15 L251.53,94.29 L251.95,94.11 L252.37,94.38 L252.79,94.36 L253.21,94.20 L253.63,94.03 L254.05,93.97 L254.47,93.99 L254.89,93.67 L255.31,93.72 L255.73,93.44 L256.15,93.33 L256.57,93.16 L256.99,93.36 L257.41,92.73 L257.83,92.60 L258.25,92.37 L258.67,92.08 L259.09,92.16 L259.51,92.25 L259.93,92.07 L260.35,91.56 L260.77,91.28 L261.19,91.37 L261.61,90.90 L262.03,91.18 L262.45,91.02 L262.87,90.39 L263.29,90.70 L263.71,89.96 L264.13,90.04 L264.55,90.09 L264.97,89.60 L265.39,89.23 L265.81,89.28 L266.23,89.17 L266.65,88.74 L267.07,88.11 L267.49,88.44 L267.91,87.59 L268.33,87.81 L268.75,87.70 L269.17,86.89 L269.59,86.84 L270.01,86.65 L270.43,85.96 L270.85,85.69 L271.27,85.26 L271.69,85.03 L272.11,84.73 L272.53,84.59 L272.95,84.68 L273.37,84.41 L273.79,84.25 L274.21,83.98 L274.63,83.89 L275.05,83.27 L275.47,83.39 L275.89,82.86 L276.31,83.04 L276.73,83.14 L277.15,82.73 L277.57,82.47 L277.99,82.32 L278.41,82.27 L278.83,82.50 L279.25,82.41 L279.67,82.12 L280.09,82.16 L280.51,81.88 L280.93,81.42 L281.35,81.40 L281.77,81.48 L282.19,81.35 L282.61,81.21 L283.03,80.96 L283.45,80.59 L283.87,81.05 L284.29,80.41 L284.71,80.82 L285.13,80.11 L285.55,80.58 L285.97,80.04 L286.39,80.22 L286.81,79.54 L287.23,79.72 L287.65,79.47 L288.07,79.66 L288.49,79.52 L288.91,79.26 L289.33,79.32 L289.75,79.39 L290.17,78.66 L290.59,78.88 L291.01,78.84 L291.43,78.70 L291.85,78.33 L292.27,78.65 L292.69,78.10 L293.11,78.41 L293.53,78.04 L293.95,77.70 L294.37,78.07 L294.79,77.43 L295.21,77.83 L295.63,77.58 L296.05,77.66 L296.47,77.50 L296.89,77.11 L297.31,76.81 L297.73,76.79 L298.15,76.49 L298.57,76.83 L298.99,76.31 L299.41,76.26 L299.83,76.18 L300.25,76.17 L300.67,76.24 L301.09,75.94 L301.51,75.85 L301.93,75.43 L302.35,75.47 L302.77,75.24 L303.19,75.47 L303.61,74.82 L304.03,75.10 L304.45,75.01 L304.87,74.73 L305.29,74.26 L305.71,74.26 L306.13,74.11 L306.55,73.99 L306.97,73.84 L307.39,74.20 L307.81,73.93 L308.23,73.86 L308.65,73.59 L309.07,73.18 L309.49,73.45 L309.91,72.97 L310.33,72.61 L310.75,72.84 L311.17,72.37 L311.59,72.62 L312.01,72.42 L312.43,71.97 L312.85,71.96 L313.27,72.02 L313.69,71.87 L314.11,71.67 L314.53,71.36 L314.95,71.35 L315.37,71.54 L315.79,71.31 L316.21,71.44 L316.63,71.37 L317.05,71.11 L317.47,70.90 L317.89,71.29 L318.31,71.04 L318.73,71.17 L319.15,70.85 L319.57,70.85 L319.99,71.04 L320.41,71.20 L320.83,70.80 L321.25,71.25 L321.67,71.28 L322.09,71.13 L322.51,71.16 L322.93,70.77 L323.35,70.65 L323.77,70.78 L324.19,70.60 L324.61,70.77 L325.03,70.98 L325.45,70.61 L325.87,70.98 L326.29,70.67 L326.71,70.43 L327.13,70.74 L327.55,70.57 L327.97,70.47 L328.39,70.57 L328.81,70.88 L329.23,70.70 L329.65,70.36 L330.07,70.80 L330.49,70.28 L330.91,70.45 L331.33,70.44 L331.75,70.90 L332.17,70.25 L332.59,70.74 L333.01,70.69 L333.43,70.50 L333.85,70.89" fill="none" stroke="#9c1414" stroke-width="1.65" stroke-linejoin="round" stroke-linecap="round"/><path d="M53.71,225.72 L54.13,226.02 L54.55,225.67 L54.97,226.01 L55.39,226.49 L55.81,226.55M56.23,225.74 L56.65,225.86 L57.07,225.71 L57.49,226.16 L57.91,225.73 L58.33,226.21 L58.75,226.43 L59.17,226.04 L59.59,226.48 L60.01,226.40 L60.43,225.79 L60.85,226.38 L61.27,226.06 L61.69,226.24 L62.11,226.11 L62.53,226.57 L62.95,226.30 L63.37,225.99 L63.79,226.43 L64.21,226.69 L64.63,226.17 L65.05,226.09 L65.47,226.27 L65.89,226.88 L66.31,226.93 L66.73,226.59 L67.15,226.85 L67.57,226.79 L67.99,226.27 L68.41,225.96 L68.83,226.57 L69.25,226.47 L69.67,226.25 L70.09,226.10 L70.51,226.30 L70.93,226.36 L71.35,226.14 L71.77,226.17 L72.19,226.35 L72.61,226.79 L73.03,226.49 L73.45,226.16 L73.87,226.15 L74.29,226.35 L74.71,226.07 L75.13,226.07 L75.55,226.41 L75.97,225.95 L76.39,226.38 L76.81,226.25 L77.23,226.64 L77.65,226.68 L78.07,226.62 L78.49,226.62 L78.91,226.28 L79.33,226.61 L79.75,226.25 L80.17,226.51 L80.59,226.24 L81.01,226.38 L81.43,225.96 L81.85,226.16M82.69,226.16 L83.11,226.67 L83.53,226.63 L83.95,226.71 L84.37,226.44 L84.79,226.58 L85.21,226.00 L85.63,226.01 L86.05,226.15 L86.47,226.10 L86.89,226.05 L87.31,226.08 L87.73,226.55 L88.15,226.15M88.57,226.99 L88.99,226.70 L89.41,226.54 L89.83,226.73 L90.25,226.24 L90.67,226.97 L91.09,226.87 L91.51,226.75 L91.93,226.48 L92.35,226.87 L92.77,226.77 L93.19,226.67 L93.61,226.95 L94.03,226.64 L94.45,226.34 L94.87,226.54 L95.29,226.15 L95.71,226.14 L96.13,226.72 L96.55,226.78 L96.97,226.98 L97.39,226.84 L97.81,226.50 L98.23,225.99 L98.65,226.42 L99.07,226.90 L99.49,226.73 L99.91,226.39 L100.33,226.34 L100.75,226.07 L101.17,226.01 L101.59,225.88M102.01,226.76 L102.43,226.47 L102.85,225.90 L103.27,226.17 L103.69,225.74 L104.11,225.89 L104.53,226.42 L104.95,226.29 L105.37,226.07 L105.79,225.93 L106.21,226.04 L106.63,226.12 L107.05,225.84M151.15,88.24 L151.57,87.46 L151.99,87.53M155.77,101.37 L156.19,102.16 L156.61,102.87 L157.03,103.17 L157.45,102.50 L157.87,101.77 L158.29,101.02M168.37,53.55 L168.79,53.21 L169.21,52.54 L169.63,52.27 L170.05,51.89 L170.47,51.80 L170.89,51.88 L171.31,52.13 L171.73,52.80 L172.15,53.12 L172.57,53.51 L172.99,53.91 L173.41,54.07 L173.83,54.44 L174.25,53.98M178.45,43.03 L178.87,42.42 L179.29,42.23 L179.71,42.68 L180.13,43.18M184.75,57.27 L185.17,57.94 L185.59,58.70 L186.01,59.34 L186.43,60.07 L186.85,60.67 L187.27,61.35 L187.69,61.87 L188.11,62.44 L188.53,62.72 L188.95,63.32 L189.37,63.52 L189.79,64.09 L190.21,64.44 L190.63,64.92 L191.05,65.21 L191.47,65.95 L191.89,66.33 L192.31,66.50 L192.73,67.10 L193.15,67.73 L193.57,67.72 L193.99,68.22 L194.41,68.79 L194.83,68.82 L195.25,69.45 L195.67,69.68 L196.09,70.04 L196.51,70.23 L196.93,70.66 L197.35,70.65 L197.77,70.98 L198.19,70.96 L198.61,71.39 L199.03,71.51 L199.45,71.92 L199.87,72.05 L200.29,71.81 L200.71,71.85 L201.13,71.93 L201.55,71.99 L201.97,72.23 L202.39,72.13 L202.81,72.10 L203.23,72.03 L203.65,71.79 L204.07,71.90 L204.49,72.08 L204.91,71.88 L205.33,71.64 L205.75,71.34 L206.17,71.53 L206.59,71.20 L207.01,71.20 L207.43,70.98 L207.85,71.03 L208.27,71.07 L208.69,71.15 L209.11,71.06 L209.53,71.43 L209.95,71.32 L210.37,71.62 L210.79,71.75 L211.21,71.91 L211.63,71.87 L212.05,72.01 L212.47,72.37 L212.89,72.35 L213.31,72.36 L213.73,72.80 L214.15,72.62 L214.57,73.38 L214.99,73.60 L215.41,74.21M217.51,78.05 L217.93,78.68 L218.35,79.25 L218.77,79.70 L219.19,80.38 L219.61,80.95 L220.03,81.34 L220.45,81.89 L220.87,82.17 L221.29,82.69 L221.71,83.08 L222.13,83.50 L222.55,83.87 L222.97,84.20 L223.39,84.39 L223.81,84.71 L224.23,85.19 L224.65,85.25 L225.07,85.69 L225.49,86.06 L225.91,86.28 L226.33,86.36 L226.75,86.47 L227.17,86.82 L227.59,87.05 L228.01,87.15 L228.43,87.23 L228.85,87.41 L229.27,87.36 L229.69,87.54 L230.11,87.54 L230.53,87.82 L230.95,87.98 L231.37,87.64 L231.79,87.59 L232.21,87.89 L232.63,87.68 L233.05,87.67 L233.47,87.39 L233.89,87.34 L234.31,87.46 L234.73,87.32 L235.15,87.34 L235.57,87.33 L235.99,87.04 L236.41,87.16 L236.83,87.09 L237.25,87.15 L237.67,87.17 L238.09,87.53 L238.51,87.52 L238.93,87.50 L239.35,87.98 L239.77,88.38 L240.19,88.69 L240.61,88.91 L241.03,89.06 L241.45,89.80 L241.87,90.24 L242.29,90.52 L242.71,90.72 L243.13,91.00 L243.55,91.43 L243.97,91.41 L244.39,91.97 L244.81,92.08 L245.23,92.13 L245.65,92.69 L246.07,92.71 L246.49,92.79 L246.91,93.00 L247.33,93.48 L247.75,93.34 L248.17,93.75 L248.59,93.88 L249.01,93.68 L249.43,93.93 L249.85,94.17 L250.27,94.11 L250.69,94.33 L251.11,94.15 L251.53,94.29 L251.95,94.11 L252.37,94.38 L252.79,94.36 L253.21,94.20 L253.63,94.03 L254.05,93.97 L254.47,93.99 L254.89,93.67 L255.31,93.72 L255.73,93.44 L256.15,93.33 L256.57,93.16 L256.99,93.36 L257.41,92.73 L257.83,92.60 L258.25,92.37 L258.67,92.08 L259.09,92.16 L259.51,92.25 L259.93,92.07 L260.35,91.56 L260.77,91.28 L261.19,91.37 L261.61,90.90 L262.03,91.18 L262.45,91.02 L262.87,90.39 L263.29,90.70 L263.71,89.96 L264.13,90.04 L264.55,90.09 L264.97,89.60 L265.39,89.23 L265.81,89.28 L266.23,89.17 L266.65,88.74 L267.07,88.11 L267.49,88.44M267.91,87.59 L268.33,87.81 L268.75,87.70M269.17,86.89 L269.59,86.84 L270.01,86.65 L270.43,85.96 L270.85,85.69 L271.27,85.26 L271.69,85.03 L272.11,84.73 L272.53,84.59 L272.95,84.68 L273.37,84.41 L273.79,84.25 L274.21,83.98 L274.63,83.89 L275.05,83.27 L275.47,83.39 L275.89,82.86 L276.31,83.04 L276.73,83.14 L277.15,82.73 L277.57,82.47 L277.99,82.32 L278.41,82.27 L278.83,82.50 L279.25,82.41 L279.67,82.12 L280.09,82.16 L280.51,81.88 L280.93,81.42 L281.35,81.40 L281.77,81.48 L282.19,81.35 L282.61,81.21 L283.03,80.96 L283.45,80.59 L283.87,81.05 L284.29,80.41 L284.71,80.82 L285.13,80.11 L285.55,80.58 L285.97,80.04 L286.39,80.22 L286.81,79.54 L287.23,79.72 L287.65,79.47 L288.07,79.66 L288.49,79.52 L288.91,79.26 L289.33,79.32 L289.75,79.39 L290.17,78.66 L290.59,78.88 L291.01,78.84 L291.43,78.70 L291.85,78.33 L292.27,78.65 L292.69,78.10 L293.11,78.41 L293.53,78.04 L293.95,77.70 L294.37,78.07 L294.79,77.43 L295.21,77.83 L295.63,77.58 L296.05,77.66 L296.47,77.50 L296.89,77.11 L297.31,76.81 L297.73,76.79 L298.15,76.49 L298.57,76.83 L298.99,76.31 L299.41,76.26 L299.83,76.18 L300.25,76.17 L300.67,76.24 L301.09,75.94 L301.51,75.85 L301.93,75.43 L302.35,75.47 L302.77,75.24 L303.19,75.47 L303.61,74.82 L304.03,75.10 L304.45,75.01 L304.87,74.73 L305.29,74.26 L305.71,74.26 L306.13,74.11 L306.55,73.99 L306.97,73.84 L307.39,74.20 L307.81,73.93 L308.23,73.86 L308.65,73.59 L309.07,73.18 L309.49,73.45 L309.91,72.97 L310.33,72.61 L310.75,72.84 L311.17,72.37 L311.59,72.62 L312.01,72.42 L312.43,71.97 L312.85,71.96 L313.27,72.02 L313.69,71.87 L314.11,71.67 L314.53,71.36 L314.95,71.35 L315.37,71.54 L315.79,71.31 L316.21,71.44 L316.63,71.37 L317.05,71.11 L317.47,70.90 L317.89,71.29 L318.31,71.04 L318.73,71.17 L319.15,70.85 L319.57,70.85 L319.99,71.04 L320.41,71.20 L320.83,70.80 L321.25,71.25 L321.67,71.28 L322.09,71.13 L322.51,71.16 L322.93,70.77 L323.35,70.65 L323.77,70.78 L324.19,70.60 L324.61,70.77 L325.03,70.98 L325.45,70.61 L325.87,70.98 L326.29,70.67 L326.71,70.43 L327.13,70.74 L327.55,70.57 L327.97,70.47 L328.39,70.57 L328.81,70.88 L329.23,70.70 L329.65,70.36 L330.07,70.80 L330.49,70.28 L330.91,70.45 L331.33,70.44 L331.75,70.90 L332.17,70.25 L332.59,70.74 L333.01,70.69 L333.43,70.50 L333.85,70.89" fill="none" stroke="#9c1414" stroke-width="2.1" stroke-linejoin="round" stroke-linecap="round"/><path d="M106.63,226.12 L107.05,225.84 L107.47,225.63 L107.89,225.57 L108.31,225.53 L108.73,225.86 L109.15,225.61 L109.57,225.67 L109.99,225.30 L110.41,225.25 L110.83,225.34 L111.25,225.31 L111.67,224.93 L112.09,224.65 L112.51,224.82 L112.93,224.35 L113.35,224.32 L113.77,223.79 L114.19,223.73 L114.61,223.46 L115.03,223.05 L115.45,222.48 L115.87,222.21 L116.29,221.47 L116.71,221.03 L117.13,220.50 L117.55,220.06M127.63,215.20 L128.05,215.79 L128.47,216.30 L128.89,215.89 L129.31,215.66M133.93,202.18 L134.35,201.95 L134.77,201.30 L135.19,201.11 L135.61,200.50 L136.03,200.44 L136.45,200.02 L136.87,200.14 L137.29,199.66 L137.71,199.17 L138.13,198.87 L138.55,198.75 L138.97,198.14 L139.39,197.57" fill="none" stroke="#9c1414" stroke-width="1.51" stroke-linejoin="round" stroke-linecap="round"/><path d="M55.81,226.55h0M56.23,225.74h0M81.85,226.16h0M82.27,226.97h0M82.69,226.16h0M88.15,226.15h0M88.57,226.99h0M101.59,225.88h0M102.01,226.76h0M117.55,220.06h0M117.97,219.03h0M118.39,218.55h0M118.81,217.62h0M119.23,216.69h0M119.65,215.26h0M120.07,213.76h0M120.49,211.82h0M120.91,209.08h0M121.33,202.37h0M121.75,196.30h0M122.17,191.50h0M122.59,191.12h0M123.01,194.79h0M123.43,198.58h0M123.85,200.97h0M124.27,203.56h0M124.69,206.22h0M125.11,208.37h0M125.53,209.93h0M125.95,211.31h0M126.37,212.49h0M126.79,213.48h0M127.21,214.11h0M127.63,215.20h0M129.31,215.66h0M129.73,214.76h0M130.15,213.62h0M130.57,212.77h0M130.99,211.30h0M131.41,209.54h0M131.83,207.37h0M132.25,205.96h0M132.67,205.10h0M133.09,203.87h0M133.51,203.08h0M133.93,202.18h0M139.39,197.57h0" fill="none" stroke="#9c1414" stroke-width="1.22" stroke-linecap="round"/><path d="M141.13,195.54h0M141.97,192.00h0M142.81,186.15h0M143.65,179.17h0M144.49,170.47h0M145.33,160.21h0M146.17,149.36h0M147.01,138.66h0M147.85,127.79h0M148.69,116.00h0M149.53,106.64h0" fill="none" stroke="#e41c1c" stroke-width="1.70" stroke-linecap="round"/><path d="M149.05,102.75h0M149.47,99.44h0M149.89,96.03h0M150.31,92.93h0M150.73,90.20h0M151.15,88.24h0M151.99,87.53h0M152.41,88.71h0M152.83,90.17h0M153.25,91.22h0M153.67,92.62h0M154.09,94.45h0M154.51,96.30h0M154.93,98.37h0M155.35,99.86h0M155.77,101.37h0M158.29,101.02h0M158.71,99.16h0M159.13,96.64h0M159.55,94.25h0M159.97,91.67h0M160.39,89.11h0M160.81,86.90h0M161.23,84.33h0M161.65,82.41h0M162.07,79.89h0M162.49,78.10h0M162.91,75.90h0M163.33,73.70h0M163.75,71.74h0M164.17,69.63h0M164.59,67.78h0M165.01,65.54h0M165.43,63.79h0M165.85,62.08h0M166.27,60.30h0M166.69,58.26h0M167.11,56.70h0M167.53,55.63h0M167.95,54.37h0M168.37,53.55h0M174.25,53.98h0M174.67,52.98h0M175.09,51.94h0M175.51,50.57h0M175.93,49.66h0M176.35,48.24h0M176.77,47.35h0M177.19,46.08h0M177.61,44.91h0M178.03,44.04h0M178.45,43.03h0M180.13,43.18h0M180.55,44.69h0M180.97,46.04h0M181.39,47.33h0M181.81,48.66h0M182.23,50.15h0M182.65,51.78h0M183.07,52.98h0M183.49,54.26h0M183.91,55.48h0M184.33,56.23h0M184.75,57.27h0M215.41,74.21h0M215.83,75.14h0M216.25,75.62h0M216.67,76.48h0M217.09,77.10h0M217.51,78.05h0M267.49,88.44h0M267.91,87.59h0M268.75,87.70h0M269.17,86.89h0" fill="none" stroke="#9c1414" stroke-width="1.70" stroke-linecap="round"/>
<path d="M53.50,223.41 L53.92,223.17 L54.34,223.85 L54.76,223.75 L55.18,223.87 L55.60,223.45 L56.02,224.38 L56.44,223.38 L56.86,223.71 L57.28,223.96 L57.70,224.37 L58.12,223.75 L58.54,224.51 L58.96,224.66 L59.38,223.79 L59.80,224.29 L60.22,223.68 L60.64,224.13 L61.06,223.79 L61.48,224.83 L61.90,224.30 L62.32,224.90 L62.74,224.76 L63.16,224.89 L63.58,224.16 L64.00,224.09 L64.42,224.70 L64.84,224.26 L65.26,224.91 L65.68,224.58 L66.10,224.74 L66.52,225.21 L66.94,224.78 L67.36,224.35 L67.78,224.43 L68.20,224.88 L68.62,224.88 L69.04,225.03 L69.46,224.79 L69.88,225.08 L70.30,224.83 L70.72,225.10 L71.14,225.28 L71.56,224.65 L71.98,224.88 L72.40,225.04 L72.82,225.27 L73.24,224.81 L73.66,225.16 L74.08,225.26 L74.50,225.57 L74.92,225.00 L75.34,225.32 L75.76,224.85 L76.18,225.20 L76.60,224.88 L77.02,225.70 L77.44,225.18 L77.86,225.64 L78.28,225.20 L78.70,225.75 L79.12,225.22 L79.54,225.15 L79.96,225.44 L80.38,225.75 L80.80,225.79 L81.22,225.51 L81.64,224.96 L82.06,225.54 L82.48,225.17 L82.90,225.72 L83.32,225.91 L83.74,225.51 L84.16,225.62 L84.58,225.05 L85.00,225.58 L85.42,225.15 L85.84,225.69 L86.26,225.43 L86.68,225.89 L87.10,225.11 L87.52,225.19 L87.94,225.84 L88.36,225.67 L88.78,225.74 L89.20,226.05 L89.62,225.68 L90.04,226.04 L90.46,225.72 L90.88,226.19 L91.30,225.92 L91.72,225.36 L92.14,225.61 L92.56,226.17 L92.98,225.61 L93.40,225.44 L93.82,225.76 L94.24,225.68 L94.66,225.94 L95.08,225.75 L95.50,225.56 L95.92,225.74 L96.34,225.75 L96.76,226.29 L97.18,226.38 L97.60,226.00 L98.02,225.41 L98.44,226.13 L98.86,226.08 L99.28,226.25 L99.70,225.73 L100.12,225.42 L100.54,226.04 L100.96,225.51 L101.38,226.23 L101.80,226.29 L102.22,225.88 L102.64,226.50 L103.06,225.67 L103.48,226.53 L103.90,226.02 L104.32,226.36 L104.74,226.34 L105.16,226.27 L105.58,226.24 L106.00,225.80 L106.42,225.75 L106.84,225.94 L107.26,225.67 L107.68,225.90 L108.10,225.79 L108.52,225.79 L108.94,225.63 L109.36,225.49 L109.78,225.71 L110.20,225.52 L110.62,225.10 L111.04,225.03 L111.46,225.14 L111.88,224.84 L112.30,224.71 L112.72,224.68 L113.14,224.27 L113.56,224.27 L113.98,223.90 L114.40,223.51 L114.82,223.00 L115.24,222.71 L115.66,222.45 L116.08,222.09 L116.50,221.19 L116.92,220.67 L117.34,220.33 L117.76,219.69 L118.18,218.61 L118.60,218.10 L119.02,217.13 L119.44,216.01 L119.86,214.58 L120.28,212.98 L120.70,210.56 L121.12,206.28 L121.54,199.03 L121.96,193.39 L122.38,190.91 L122.80,192.88 L123.22,196.84 L123.64,199.98 L124.06,202.25 L124.48,204.73 L124.90,207.20 L125.32,209.32 L125.74,210.92 L126.16,212.05 L126.58,213.21 L127.00,213.74 L127.42,214.55 L127.84,215.35 L128.26,215.94 L128.68,216.07 L129.10,215.61 L129.52,215.02 L129.94,213.98 L130.36,213.16 L130.78,212.15 L131.20,210.31 L131.62,208.50 L132.04,206.85 L132.46,205.76 L132.88,204.56 L133.30,203.64 L133.72,202.61 L134.14,202.20 L134.56,201.37 L134.98,201.08 L135.40,200.93 L135.82,200.49 L136.24,200.50 L136.66,200.25 L137.08,199.69 L137.50,199.40 L137.92,199.01 L138.34,199.06 L138.76,198.48 L139.18,198.00 L139.60,197.19 L140.02,196.05 L140.44,194.76 L140.86,192.87 L141.28,190.79 L141.70,187.67 L142.12,184.34 L142.54,181.21 L142.96,177.29 L143.38,173.20 L143.80,167.93 L144.22,162.99 L144.64,157.71 L145.06,152.49 L145.48,147.05 L145.90,141.41 L146.32,136.06 L146.74,130.69 L147.16,125.03 L147.58,119.36 L148.00,113.72 L148.42,108.37 L148.84,103.70 L149.26,98.87 L149.68,94.24" fill="none" stroke="#127331" stroke-width="1.15" stroke-linejoin="round" stroke-linecap="round"/><path d="M149.68,94.24 L150.10,89.05 L150.52,82.18 L150.94,76.22 L151.36,72.55 L151.78,72.29 L152.20,73.63 L152.62,75.37 L153.04,77.39 L153.46,79.38 L153.88,81.86 L154.30,83.89 L154.72,86.14 L155.14,88.14 L155.56,89.52 L155.98,90.46 L156.40,90.85 L156.82,90.86 L157.24,89.51 L157.66,88.10 L158.08,86.24 L158.50,83.45 L158.92,80.55 L159.34,78.30 L159.76,75.45 L160.18,72.75 L160.60,70.24 L161.02,67.83 L161.44,65.10 L161.86,62.94 L162.28,60.57 L162.70,58.13 L163.12,56.03 L163.54,53.79 L163.96,51.61 L164.38,49.80 L164.80,47.73 L165.22,45.96 L165.64,43.80 L166.06,42.03 L166.48,40.30 L166.90,38.31 L167.32,36.86 L167.74,35.66 L168.16,34.40 L168.58,33.67 L169.00,33.21 L169.42,32.78 L169.84,32.79 L170.26,32.78 L170.68,33.08 L171.10,33.37 L171.52,33.74 L171.94,34.26 L172.36,34.50 L172.78,34.87 L173.20,35.15 L173.62,35.28 L174.04,34.93 L174.46,34.08 L174.88,33.69 L175.30,32.73 L175.72,31.64 L176.14,30.80 L176.56,29.50 L176.98,28.22 L177.40,26.90 L177.82,25.49 L178.24,24.35 L178.66,23.17 L179.08,22.35 L179.50,22.79 L179.92,23.38 L180.34,24.59 L180.76,26.09 L181.18,27.62 L181.60,29.17 L182.02,30.99 L182.44,32.64 L182.86,33.99 L183.28,35.82 L183.70,37.07 L184.12,38.34 L184.54,39.85 L184.96,40.90 L185.38,41.80 L185.80,43.10 L186.22,44.18 L186.64,44.79 L187.06,45.92 L187.48,46.52 L187.90,47.31 L188.32,47.78 L188.74,48.55 L189.16,49.25 L189.58,49.46 L190.00,49.81 L190.42,50.59 L190.84,51.06 L191.26,51.28 L191.68,51.87 L192.10,52.28 L192.52,52.62 L192.94,53.09 L193.36,53.21 L193.78,53.92 L194.20,54.13 L194.62,54.46 L195.04,54.97 L195.46,55.48 L195.88,55.68 L196.30,55.90 L196.72,56.38 L197.14,56.77 L197.56,57.35 L197.98,57.89 L198.40,58.19 L198.82,58.58 L199.24,59.24 L199.66,59.32 L200.08,59.54 L200.50,60.04 L200.92,60.12 L201.34,60.33 L201.76,60.30 L202.18,60.59 L202.60,60.71 L203.02,60.92 L203.44,60.49 L203.86,60.67 L204.28,60.60 L204.70,60.58 L205.12,60.61 L205.54,60.37 L205.96,60.33 L206.38,60.24 L206.80,60.32 L207.22,60.35 L207.64,60.11 L208.06,60.33 L208.48,60.38 L208.90,60.34 L209.32,60.64 L209.74,60.71 L210.16,60.76 L210.58,60.94 L211.00,61.27 L211.42,61.31 L211.84,61.49 L212.26,61.57 L212.68,61.97 L213.10,62.24 L213.52,62.26 L213.94,62.60 L214.36,63.22 L214.78,63.60 L215.20,64.11 L215.62,64.88 L216.04,65.79 L216.46,66.47 L216.88,67.30 L217.30,68.11 L217.72,68.85 L218.14,69.79 L218.56,70.49 L218.98,71.36 L219.40,72.05 L219.82,72.92 L220.24,73.70 L220.66,74.55 L221.08,75.02 L221.50,75.70 L221.92,76.18 L222.34,76.76 L222.76,77.63 L223.18,77.86 L223.60,78.10 L224.02,78.46 L224.44,78.97 L224.86,79.34 L225.28,79.72 L225.70,79.88 L226.12,80.04 L226.54,80.45 L226.96,80.48 L227.38,80.79 L227.80,80.93 L228.22,81.39 L228.64,81.54 L229.06,81.69 L229.48,81.77 L229.90,82.21 L230.32,82.16 L230.74,82.52 L231.16,82.35 L231.58,82.60 L232.00,82.72 L232.42,82.49 L232.84,82.48 L233.26,82.68 L233.68,82.29 L234.10,82.37 L234.52,82.09 L234.94,82.38 L235.36,82.26 L235.78,81.97 L236.20,82.28 L236.62,82.30 L237.04,82.11 L237.46,82.31 L237.88,82.65 L238.30,82.90 L238.72,83.00 L239.14,83.19 L239.56,83.69 L239.98,84.20 L240.40,84.52 L240.82,84.84 L241.24,85.35 L241.66,86.01 L242.08,86.33 L242.50,86.88 L242.92,87.02 L243.34,87.59 L243.76,87.99 L244.18,88.36 L244.60,88.42 L245.02,89.01 L245.44,89.17 L245.86,89.34 L246.28,89.50 L246.70,90.04 L247.12,90.41 L247.54,90.47 L247.96,90.55 L248.38,90.74 L248.80,90.96 L249.22,91.30 L249.64,91.17 L250.06,91.23 L250.48,91.35 L250.90,91.28 L251.32,91.35 L251.74,91.61 L252.16,91.66 L252.58,91.44 L253.00,91.49 L253.42,91.67 L253.84,91.56 L254.26,91.41 L254.68,91.57 L255.10,91.58 L255.52,91.21 L255.94,90.94 L256.36,91.29 L256.78,91.24 L257.20,90.98 L257.62,90.96 L258.04,90.30 L258.46,90.60 L258.88,90.60 L259.30,90.09 L259.72,89.86 L260.14,90.22 L260.56,89.99 L260.98,89.54 L261.40,89.53 L261.82,89.13 L262.24,89.04 L262.66,89.12 L263.08,89.01 L263.50,88.93 L263.92,88.61 L264.34,88.55 L264.76,87.96 L265.18,88.17 L265.60,88.19 L266.02,87.97 L266.44,87.70 L266.86,87.59 L267.28,87.09 L267.70,86.78 L268.12,86.79 L268.54,86.52 L268.96,85.89 L269.38,85.77 L269.80,85.69 L270.22,85.01 L270.64,84.70 L271.06,84.61 L271.48,84.14 L271.90,84.06 L272.32,83.98 L272.74,83.59 L273.16,83.04 L273.58,83.46 L274.00,82.79 L274.42,82.43 L274.84,82.57 L275.26,82.69 L275.68,82.59 L276.10,81.88 L276.52,81.69 L276.94,82.08 L277.36,81.95 L277.78,81.86 L278.20,81.64 L278.62,81.55 L279.04,81.41 L279.46,80.73 L279.88,80.71 L280.30,80.49 L280.72,80.34 L281.14,80.90 L281.56,80.80 L281.98,80.37 L282.40,79.96 L282.82,79.84 L283.24,80.26 L283.66,80.15 L284.08,79.80 L284.50,79.78 L284.92,79.58 L285.34,79.54 L285.76,79.61 L286.18,79.11 L286.60,78.74 L287.02,78.63 L287.44,78.91 L287.86,78.38 L288.28,78.30 L288.70,78.73 L289.12,78.65 L289.54,77.97 L289.96,77.93 L290.38,78.36 L290.80,78.20 L291.22,77.89 L291.64,77.67 L292.06,77.79 L292.48,77.47 L292.90,77.71 L293.32,77.45 L293.74,77.26 L294.16,76.78 L294.58,77.10 L295.00,76.57 L295.42,76.49 L295.84,76.88 L296.26,76.57 L296.68,76.46 L297.10,76.44 L297.52,76.44 L297.94,76.40 L298.36,75.67 L298.78,75.54 L299.20,75.45 L299.62,75.96 L300.04,75.52 L300.46,75.29 L300.88,75.33 L301.30,74.85 L301.72,74.91 L302.14,74.71 L302.56,74.83 L302.98,74.33 L303.40,74.76 L303.82,73.96 L304.24,73.86 L304.66,73.75 L305.08,74.18 L305.50,73.52 L305.92,73.68 L306.34,73.53 L306.76,73.19 L307.18,73.00 L307.60,73.18 L308.02,72.58 L308.44,72.40 L308.86,72.53 L309.28,72.33 L309.70,72.02 L310.12,71.89 L310.54,72.04 L310.96,72.22 L311.38,71.91 L311.80,71.42 L312.22,71.42 L312.64,71.53 L313.06,70.99 L313.48,70.97 L313.90,70.78 L314.32,70.97 L314.74,70.94 L315.16,71.09 L315.58,70.45 L316.00,70.47 L316.42,70.52 L316.84,70.58 L317.26,70.47 L317.68,70.92 L318.10,70.46 L318.52,70.82 L318.94,70.87 L319.36,70.36 L319.78,70.25 L320.20,70.73 L320.62,70.13 L321.04,70.20 L321.46,70.23 L321.88,70.09 L322.30,70.49 L322.72,70.04 L323.14,70.19 L323.56,70.36 L323.98,70.42 L324.40,70.00 L324.82,70.27 L325.24,70.36 L325.66,69.87 L326.08,70.14 L326.50,70.05 L326.92,69.82 L327.34,70.15 L327.76,69.78 L328.18,70.18 L328.60,70.04 L329.02,70.27 L329.44,69.99 L329.86,70.25 L330.28,69.90 L330.70,69.99 L331.12,70.10 L331.54,70.18 L331.96,69.95 L332.38,69.80 L332.80,70.30 L333.22,70.40 L333.64,70.53" fill="none" stroke="#127331" stroke-width="1.7999999999999998" stroke-linejoin="round" stroke-linecap="round"/><path d="M53.50,223.41 L53.92,223.17 L54.34,223.85 L54.76,223.75 L55.18,223.87 L55.60,223.45M56.44,223.38 L56.86,223.71 L57.28,223.96 L57.70,224.37 L58.12,223.75 L58.54,224.51 L58.96,224.66M59.38,223.79 L59.80,224.29 L60.22,223.68 L60.64,224.13 L61.06,223.79M61.48,224.83 L61.90,224.30 L62.32,224.90 L62.74,224.76 L63.16,224.89 L63.58,224.16 L64.00,224.09 L64.42,224.70 L64.84,224.26 L65.26,224.91 L65.68,224.58 L66.10,224.74 L66.52,225.21 L66.94,224.78 L67.36,224.35 L67.78,224.43 L68.20,224.88 L68.62,224.88 L69.04,225.03 L69.46,224.79 L69.88,225.08 L70.30,224.83 L70.72,225.10 L71.14,225.28 L71.56,224.65 L71.98,224.88 L72.40,225.04 L72.82,225.27 L73.24,224.81 L73.66,225.16 L74.08,225.26 L74.50,225.57 L74.92,225.00 L75.34,225.32 L75.76,224.85 L76.18,225.20 L76.60,224.88M77.02,225.70 L77.44,225.18 L77.86,225.64 L78.28,225.20 L78.70,225.75 L79.12,225.22 L79.54,225.15 L79.96,225.44 L80.38,225.75 L80.80,225.79 L81.22,225.51 L81.64,224.96 L82.06,225.54 L82.48,225.17 L82.90,225.72 L83.32,225.91 L83.74,225.51 L84.16,225.62 L84.58,225.05 L85.00,225.58 L85.42,225.15 L85.84,225.69 L86.26,225.43 L86.68,225.89 L87.10,225.11 L87.52,225.19 L87.94,225.84 L88.36,225.67 L88.78,225.74 L89.20,226.05 L89.62,225.68 L90.04,226.04 L90.46,225.72 L90.88,226.19 L91.30,225.92 L91.72,225.36 L92.14,225.61 L92.56,226.17 L92.98,225.61 L93.40,225.44 L93.82,225.76 L94.24,225.68 L94.66,225.94 L95.08,225.75 L95.50,225.56 L95.92,225.74 L96.34,225.75 L96.76,226.29 L97.18,226.38 L97.60,226.00 L98.02,225.41 L98.44,226.13 L98.86,226.08 L99.28,226.25 L99.70,225.73 L100.12,225.42 L100.54,226.04 L100.96,225.51 L101.38,226.23 L101.80,226.29 L102.22,225.88 L102.64,226.50M103.48,226.53 L103.90,226.02 L104.32,226.36 L104.74,226.34 L105.16,226.27 L105.58,226.24 L106.00,225.80 L106.42,225.75 L106.84,225.94 L107.26,225.67M155.98,90.46 L156.40,90.85 L156.82,90.86M168.16,34.40 L168.58,33.67 L169.00,33.21 L169.42,32.78 L169.84,32.79 L170.26,32.78 L170.68,33.08 L171.10,33.37 L171.52,33.74 L171.94,34.26 L172.36,34.50 L172.78,34.87 L173.20,35.15 L173.62,35.28 L174.04,34.93M179.08,22.35 L179.50,22.79 L179.92,23.38M187.06,45.92 L187.48,46.52 L187.90,47.31 L188.32,47.78 L188.74,48.55 L189.16,49.25 L189.58,49.46 L190.00,49.81 L190.42,50.59 L190.84,51.06 L191.26,51.28 L191.68,51.87 L192.10,52.28 L192.52,52.62 L192.94,53.09 L193.36,53.21 L193.78,53.92 L194.20,54.13 L194.62,54.46 L195.04,54.97 L195.46,55.48 L195.88,55.68 L196.30,55.90 L196.72,56.38 L197.14,56.77 L197.56,57.35 L197.98,57.89 L198.40,58.19 L198.82,58.58 L199.24,59.24 L199.66,59.32 L200.08,59.54 L200.50,60.04 L200.92,60.12 L201.34,60.33 L201.76,60.30 L202.18,60.59 L202.60,60.71 L203.02,60.92 L203.44,60.49 L203.86,60.67 L204.28,60.60 L204.70,60.58 L205.12,60.61 L205.54,60.37 L205.96,60.33 L206.38,60.24 L206.80,60.32 L207.22,60.35 L207.64,60.11 L208.06,60.33 L208.48,60.38 L208.90,60.34 L209.32,60.64 L209.74,60.71 L210.16,60.76 L210.58,60.94 L211.00,61.27 L211.42,61.31 L211.84,61.49 L212.26,61.57 L212.68,61.97 L213.10,62.24 L213.52,62.26 L213.94,62.60 L214.36,63.22 L214.78,63.60 L215.20,64.11 L215.62,64.88M220.66,74.55 L221.08,75.02 L221.50,75.70 L221.92,76.18 L222.34,76.76M222.76,77.63 L223.18,77.86 L223.60,78.10 L224.02,78.46 L224.44,78.97 L224.86,79.34 L225.28,79.72 L225.70,79.88 L226.12,80.04 L226.54,80.45 L226.96,80.48 L227.38,80.79 L227.80,80.93 L228.22,81.39 L228.64,81.54 L229.06,81.69 L229.48,81.77 L229.90,82.21 L230.32,82.16 L230.74,82.52 L231.16,82.35 L231.58,82.60 L232.00,82.72 L232.42,82.49 L232.84,82.48 L233.26,82.68 L233.68,82.29 L234.10,82.37 L234.52,82.09 L234.94,82.38 L235.36,82.26 L235.78,81.97 L236.20,82.28 L236.62,82.30 L237.04,82.11 L237.46,82.31 L237.88,82.65 L238.30,82.90 L238.72,83.00 L239.14,83.19 L239.56,83.69 L239.98,84.20 L240.40,84.52 L240.82,84.84 L241.24,85.35 L241.66,86.01 L242.08,86.33 L242.50,86.88 L242.92,87.02 L243.34,87.59 L243.76,87.99 L244.18,88.36 L244.60,88.42 L245.02,89.01 L245.44,89.17 L245.86,89.34 L246.28,89.50 L246.70,90.04 L247.12,90.41 L247.54,90.47 L247.96,90.55 L248.38,90.74 L248.80,90.96 L249.22,91.30 L249.64,91.17 L250.06,91.23 L250.48,91.35 L250.90,91.28 L251.32,91.35 L251.74,91.61 L252.16,91.66 L252.58,91.44 L253.00,91.49 L253.42,91.67 L253.84,91.56 L254.26,91.41 L254.68,91.57 L255.10,91.58 L255.52,91.21 L255.94,90.94 L256.36,91.29 L256.78,91.24 L257.20,90.98 L257.62,90.96 L258.04,90.30 L258.46,90.60 L258.88,90.60 L259.30,90.09 L259.72,89.86 L260.14,90.22 L260.56,89.99 L260.98,89.54 L261.40,89.53 L261.82,89.13 L262.24,89.04 L262.66,89.12 L263.08,89.01 L263.50,88.93 L263.92,88.61 L264.34,88.55 L264.76,87.96 L265.18,88.17 L265.60,88.19 L266.02,87.97 L266.44,87.70 L266.86,87.59 L267.28,87.09 L267.70,86.78 L268.12,86.79 L268.54,86.52 L268.96,85.89 L269.38,85.77 L269.80,85.69 L270.22,85.01 L270.64,84.70 L271.06,84.61 L271.48,84.14 L271.90,84.06 L272.32,83.98 L272.74,83.59 L273.16,83.04 L273.58,83.46 L274.00,82.79 L274.42,82.43 L274.84,82.57 L275.26,82.69 L275.68,82.59 L276.10,81.88 L276.52,81.69 L276.94,82.08 L277.36,81.95 L277.78,81.86 L278.20,81.64 L278.62,81.55 L279.04,81.41 L279.46,80.73 L279.88,80.71 L280.30,80.49 L280.72,80.34 L281.14,80.90 L281.56,80.80 L281.98,80.37 L282.40,79.96 L282.82,79.84 L283.24,80.26 L283.66,80.15 L284.08,79.80 L284.50,79.78 L284.92,79.58 L285.34,79.54 L285.76,79.61 L286.18,79.11 L286.60,78.74 L287.02,78.63 L287.44,78.91 L287.86,78.38 L288.28,78.30 L288.70,78.73 L289.12,78.65 L289.54,77.97 L289.96,77.93 L290.38,78.36 L290.80,78.20 L291.22,77.89 L291.64,77.67 L292.06,77.79 L292.48,77.47 L292.90,77.71 L293.32,77.45 L293.74,77.26 L294.16,76.78 L294.58,77.10 L295.00,76.57 L295.42,76.49 L295.84,76.88 L296.26,76.57 L296.68,76.46 L297.10,76.44 L297.52,76.44 L297.94,76.40 L298.36,75.67 L298.78,75.54 L299.20,75.45 L299.62,75.96 L300.04,75.52 L300.46,75.29 L300.88,75.33 L301.30,74.85 L301.72,74.91 L302.14,74.71 L302.56,74.83 L302.98,74.33 L303.40,74.76M303.82,73.96 L304.24,73.86 L304.66,73.75 L305.08,74.18 L305.50,73.52 L305.92,73.68 L306.34,73.53 L306.76,73.19 L307.18,73.00 L307.60,73.18 L308.02,72.58 L308.44,72.40 L308.86,72.53 L309.28,72.33 L309.70,72.02 L310.12,71.89 L310.54,72.04 L310.96,72.22 L311.38,71.91 L311.80,71.42 L312.22,71.42 L312.64,71.53 L313.06,70.99 L313.48,70.97 L313.90,70.78 L314.32,70.97 L314.74,70.94 L315.16,71.09 L315.58,70.45 L316.00,70.47 L316.42,70.52 L316.84,70.58 L317.26,70.47 L317.68,70.92 L318.10,70.46 L318.52,70.82 L318.94,70.87 L319.36,70.36 L319.78,70.25 L320.20,70.73 L320.62,70.13 L321.04,70.20 L321.46,70.23 L321.88,70.09 L322.30,70.49 L322.72,70.04 L323.14,70.19 L323.56,70.36 L323.98,70.42 L324.40,70.00 L324.82,70.27 L325.24,70.36 L325.66,69.87 L326.08,70.14 L326.50,70.05 L326.92,69.82 L327.34,70.15 L327.76,69.78 L328.18,70.18 L328.60,70.04 L329.02,70.27 L329.44,69.99 L329.86,70.25 L330.28,69.90 L330.70,69.99 L331.12,70.10 L331.54,70.18 L331.96,69.95 L332.38,69.80 L332.80,70.30 L333.22,70.40 L333.64,70.53" fill="none" stroke="#127331" stroke-width="2.1" stroke-linejoin="round" stroke-linecap="round"/><path d="M106.84,225.94 L107.26,225.67 L107.68,225.90 L108.10,225.79 L108.52,225.79 L108.94,225.63 L109.36,225.49 L109.78,225.71 L110.20,225.52 L110.62,225.10 L111.04,225.03 L111.46,225.14 L111.88,224.84 L112.30,224.71 L112.72,224.68 L113.14,224.27 L113.56,224.27 L113.98,223.90 L114.40,223.51 L114.82,223.00 L115.24,222.71 L115.66,222.45 L116.08,222.09M116.50,221.19 L116.92,220.67 L117.34,220.33 L117.76,219.69M127.84,215.35 L128.26,215.94 L128.68,216.07 L129.10,215.61 L129.52,215.02M134.56,201.37 L134.98,201.08 L135.40,200.93 L135.82,200.49 L136.24,200.50 L136.66,200.25 L137.08,199.69 L137.50,199.40 L137.92,199.01 L138.34,199.06 L138.76,198.48 L139.18,198.00" fill="none" stroke="#127331" stroke-width="1.51" stroke-linejoin="round" stroke-linecap="round"/><path d="M55.60,223.45h0M56.02,224.38h0M56.44,223.38h0M58.96,224.66h0M59.38,223.79h0M61.06,223.79h0M61.48,224.83h0M76.60,224.88h0M77.02,225.70h0M102.64,226.50h0M103.06,225.67h0M103.48,226.53h0M116.08,222.09h0M116.50,221.19h0M117.76,219.69h0M118.18,218.61h0M118.60,218.10h0M119.02,217.13h0M119.44,216.01h0M119.86,214.58h0M120.28,212.98h0M120.70,210.56h0M121.12,206.28h0M121.54,199.03h0M121.96,193.39h0M122.38,190.91h0M122.80,192.88h0M123.22,196.84h0M123.64,199.98h0M124.06,202.25h0M124.48,204.73h0M124.90,207.20h0M125.32,209.32h0M125.74,210.92h0M126.16,212.05h0M126.58,213.21h0M127.00,213.74h0M127.42,214.55h0M127.84,215.35h0M129.52,215.02h0M129.94,213.98h0M130.36,213.16h0M130.78,212.15h0M131.20,210.31h0M131.62,208.50h0M132.04,206.85h0M132.46,205.76h0M132.88,204.56h0M133.30,203.64h0M133.72,202.61h0M134.14,202.20h0M134.56,201.37h0M139.18,198.00h0" fill="none" stroke="#127331" stroke-width="1.51" stroke-linecap="round"/><path d="M139.60,197.19h0M140.02,196.05h0M140.44,194.76h0M140.86,192.87h0M141.28,190.79h0M141.70,187.67h0M142.12,184.34h0M142.54,181.21h0M142.96,177.29h0M143.38,173.20h0M143.80,167.93h0M144.22,162.99h0M144.64,157.71h0M145.06,152.49h0M145.48,147.05h0M145.90,141.41h0M146.32,136.06h0M146.74,130.69h0M147.16,125.03h0M147.58,119.36h0M148.00,113.72h0M148.42,108.37h0" fill="none" stroke="#127331" stroke-width="2.10" stroke-linecap="round"/><path d="M148.84,103.70h0M149.26,98.87h0M149.68,94.24h0M150.10,89.05h0M150.52,82.18h0M150.94,76.22h0M151.36,72.55h0M151.78,72.29h0M152.20,73.63h0M152.62,75.37h0M153.04,77.39h0M153.46,79.38h0M153.88,81.86h0M154.30,83.89h0M154.72,86.14h0M155.14,88.14h0M155.56,89.52h0M155.98,90.46h0M156.82,90.86h0M157.24,89.51h0M157.66,88.10h0M158.08,86.24h0M158.50,83.45h0M158.92,80.55h0M159.34,78.30h0M159.76,75.45h0M160.18,72.75h0M160.60,70.24h0M161.02,67.83h0M161.44,65.10h0M161.86,62.94h0M162.28,60.57h0M162.70,58.13h0M163.12,56.03h0M163.54,53.79h0M163.96,51.61h0M164.38,49.80h0M164.80,47.73h0M165.22,45.96h0M165.64,43.80h0M166.06,42.03h0M166.48,40.30h0M166.90,38.31h0M167.32,36.86h0M167.74,35.66h0M168.16,34.40h0M174.04,34.93h0M174.46,34.08h0M174.88,33.69h0M175.30,32.73h0M175.72,31.64h0M176.14,30.80h0M176.56,29.50h0M176.98,28.22h0M177.40,26.90h0M177.82,25.49h0M178.24,24.35h0M178.66,23.17h0M179.08,22.35h0M179.92,23.38h0M180.34,24.59h0M180.76,26.09h0M181.18,27.62h0M181.60,29.17h0M182.02,30.99h0M182.44,32.64h0M182.86,33.99h0M183.28,35.82h0M183.70,37.07h0M184.12,38.34h0M184.54,39.85h0M184.96,40.90h0M185.38,41.80h0M185.80,43.10h0M186.22,44.18h0M186.64,44.79h0M187.06,45.92h0M215.62,64.88h0M216.04,65.79h0M216.46,66.47h0M216.88,67.30h0M217.30,68.11h0M217.72,68.85h0M218.14,69.79h0M218.56,70.49h0M218.98,71.36h0M219.40,72.05h0M219.82,72.92h0M220.24,73.70h0M220.66,74.55h0M222.34,76.76h0M222.76,77.63h0M303.40,74.76h0M303.82,73.96h0" fill="none" stroke="#127331" stroke-width="2.10" stroke-linecap="round"/>
<rect x="55.5" y="2.5" width="93" height="65.4" fill="#fff" stroke="none"/>
<path d="M55.7,67.9 V3.6 Q55.7,2.6 56.7,2.6" fill="none" stroke="#9a9a9a" stroke-width="0.9"/>
<path d="M56.7,2.6 H147.5" fill="none" stroke="#727272" stroke-width="1.1"/>
<path d="M147.5,2.6 Q148.6,2.6 148.6,3.6 V68" fill="none" stroke="#505050" stroke-width="0.9"/>
<path d="M55.5,67.5 H148.5" fill="none" stroke="#a8a8a8" stroke-width="0.9"/>
<path d="M29,5.3 H349" fill="none" stroke="#4a4a4a" stroke-width="0.9"/>
<path d="M55.6,67.5v1.4M81.8,67.5v1.4M108.6,67.5v1.4M135.2,67.5v1.4" stroke="#999" stroke-width="0.8"/>
<path d="M53.30,62.13L57.90,66.73M53.30,66.73L57.90,62.13M56.88,62.27L61.48,66.87M56.88,66.87L61.48,62.27M60.47,61.73L65.07,66.33M60.47,66.33L65.07,61.73M64.04,62.46L68.64,67.06M64.04,67.06L68.64,62.46M67.63,62.73L72.23,67.33M67.63,67.33L72.23,62.73M70.70,60.48L75.30,65.08M70.70,65.08L75.30,60.48M73.18,57.77L77.78,62.37M73.18,62.37L77.78,57.77M75.55,56.55L80.15,61.15M75.55,61.15L80.15,56.55M77.99,52.87L82.59,57.47M77.99,57.47L82.59,52.87M80.78,50.55L85.38,55.15M80.78,55.15L85.38,50.55M83.86,50.23L88.46,54.83M83.86,54.83L88.46,50.23M87.35,48.41L91.95,53.01M87.35,53.01L91.95,48.41M90.72,47.98L95.32,52.58M90.72,52.58L95.32,47.98M93.22,44.74L97.82,49.34M93.22,49.34L97.82,44.74M94.39,41.64L98.99,46.24M94.39,46.24L98.99,41.64M95.52,37.34L100.12,41.94M95.52,41.94L100.12,37.34M96.55,34.77L101.15,39.37M96.55,39.37L101.15,34.77M97.48,31.71L102.08,36.31M97.48,36.31L102.08,31.71M98.42,27.61L103.02,32.21M98.42,32.21L103.02,27.61M99.35,24.53L103.95,29.13M99.35,29.13L103.95,24.53M100.29,20.93L104.89,25.53M100.29,25.53L104.89,20.93M101.23,16.36L105.83,20.96M101.23,20.96L105.83,16.36M102.17,14.13L106.77,18.73M102.17,18.73L106.77,14.13M103.34,10.44L107.94,15.04M103.34,15.04L107.94,10.44M104.82,6.64L109.42,11.24M104.82,11.24L109.42,6.64M107.32,3.81L111.92,8.41M107.32,8.41L111.92,3.81M109.89,7.48L114.49,12.08M109.89,12.08L114.49,7.48M111.72,9.87L116.32,14.47M111.72,14.47L116.32,9.87M113.33,13.53L117.93,18.13M113.33,18.13L117.93,13.53M114.84,17.09L119.44,21.69M114.84,21.69L119.44,17.09M116.36,20.06L120.96,24.66M116.36,24.66L120.96,20.06M117.89,23.69L122.49,28.29M117.89,28.29L122.49,23.69M119.48,25.97L124.08,30.57M119.48,30.57L124.08,25.97M121.36,29.77L125.96,34.37M121.36,34.37L125.96,29.77M123.30,32.15L127.90,36.75M123.30,36.75L127.90,32.15M125.66,35.76L130.26,40.36M125.66,40.36L130.26,35.76M128.13,38.27L132.73,42.87M128.13,42.87L132.73,38.27M130.86,39.19L135.46,43.79M130.86,43.79L135.46,39.19M133.89,41.19L138.49,45.79M133.89,45.79L138.49,41.19M137.15,42.63L141.75,47.23M137.15,47.23L141.75,42.63M140.73,44.31L145.33,48.91M140.73,48.91L145.33,44.31M144.29,43.06L148.89,47.66M144.29,47.66L148.89,43.06" fill="none" stroke="#3f4bcc" stroke-width="0.85"/>
<path d="M55.60,64.01 L56.93,63.99 L58.26,63.92 L59.59,63.96 L60.92,63.68 L62.25,63.78 L63.58,62.97 L64.91,63.49 L66.24,64.13 L67.57,64.08 L68.90,64.51 L70.23,64.04 L71.56,64.27 L72.89,63.12 L74.22,61.70 L75.55,60.11 L76.88,57.96 L78.21,56.51 L79.54,55.07 L80.87,54.34 L82.20,53.02 L83.53,51.43 L84.86,51.19 L86.19,50.17 L87.52,50.47 L88.85,49.83 L90.18,49.42 L91.51,49.85 L92.84,48.66 L94.17,47.74 L95.50,46.71 L96.83,43.72 L98.16,39.37 L99.49,35.50 L100.82,30.13 L102.15,25.42 L103.48,20.27 L104.81,16.53 L106.14,12.88 L107.47,10.86 L108.80,9.47 L110.13,8.73 L111.46,9.65 L112.79,10.75 L114.12,12.21 L115.45,14.17 L116.78,16.79 L118.11,19.63 L119.44,21.81 L120.77,25.39 L122.10,27.71 L123.43,29.88 L124.76,32.32 L126.09,33.88 L127.42,35.43 L128.75,37.14 L130.08,38.84 L131.41,39.68 L132.74,41.61 L134.07,41.78 L135.40,43.38 L136.73,44.25 L138.06,44.08 L139.39,45.09 L140.72,44.86 L142.05,45.10 L143.38,44.58 L144.71,44.58 L146.04,44.57 L147.37,45.04 L148.70,44.08" fill="none" stroke="#f01d1d" stroke-width="2.0" stroke-linejoin="round" stroke-linecap="round"/>
<path d="M55.60,65.67 L56.93,65.47 L58.26,65.15 L59.59,65.66 L60.92,64.70 L62.25,64.98 L63.58,65.26 L64.91,64.63 L66.24,65.29 L67.57,65.57 L68.90,65.17 L70.23,65.57 L71.56,65.67 L72.89,64.64 L74.22,63.51 L75.55,61.64 L76.88,60.30 L78.21,58.77 L79.54,57.84 L80.87,57.08 L82.20,55.75 L83.53,55.00 L84.86,53.92 L86.19,53.89 L87.52,53.19 L88.85,53.06 L90.18,52.85 L91.51,52.21 L92.84,51.02 L94.17,49.57 L95.50,47.80 L96.83,43.39 L98.16,38.62 L99.49,35.00 L100.82,30.16 L102.15,24.21 L103.48,18.59 L104.81,12.80 L106.14,9.33 L107.47,6.81 L108.80,4.82 L110.13,4.99 L111.46,6.57 L112.79,8.46 L114.12,12.30 L115.45,15.07 L116.78,18.65 L118.11,22.10 L119.44,24.76 L120.77,27.59 L122.10,30.18 L123.43,32.82 L124.76,34.37 L126.09,36.17 L127.42,38.04 L128.75,39.83 L130.08,40.79 L131.41,41.92 L132.74,43.10 L134.07,43.55 L135.40,44.86 L136.73,45.24 L138.06,46.22 L139.39,46.90 L140.72,46.29 L142.05,46.84 L143.38,46.91 L144.71,46.47 L146.04,46.39 L147.37,46.71 L148.70,46.33" fill="none" stroke="#127331" stroke-width="2.15" stroke-linejoin="round" stroke-linecap="round"/>
<text x="48.5" y="5.65" font-size="6.4" text-anchor="end" font-weight="normal" textLength="12.6" lengthAdjust="spacingAndGlyphs" >0.25</text>
<text x="48.5" y="19.0" font-size="6.4" text-anchor="end" font-weight="normal" textLength="8.9" lengthAdjust="spacingAndGlyphs" >0.2</text>
<text x="48.5" y="31.45" font-size="6.4" text-anchor="end" font-weight="normal" textLength="12.6" lengthAdjust="spacingAndGlyphs" >0.15</text>
<text x="48.5" y="44.85" font-size="6.4" text-anchor="end" font-weight="normal" textLength="8.6" lengthAdjust="spacingAndGlyphs" >0.1</text>
<text x="48.5" y="57.85" font-size="6.4" text-anchor="end" font-weight="normal" textLength="12.4" lengthAdjust="spacingAndGlyphs" >0.05</text>
<text x="48.5" y="70.65" font-size="6.4" text-anchor="end" font-weight="normal" textLength="3.9" lengthAdjust="spacingAndGlyphs" >0</text>
<text x="55.4" y="80.0" font-size="7.2" text-anchor="middle" font-weight="normal" textLength="14.2" lengthAdjust="spacingAndGlyphs" >4965</text>
<text x="82" y="80.0" font-size="7.2" text-anchor="middle" font-weight="normal" textLength="14.2" lengthAdjust="spacingAndGlyphs" >4967</text>
<text x="108.6" y="80.0" font-size="7.2" text-anchor="middle" font-weight="normal" textLength="14.2" lengthAdjust="spacingAndGlyphs" >4969</text>
<text x="135.2" y="80.0" font-size="7.2" text-anchor="middle" font-weight="normal" textLength="14.2" lengthAdjust="spacingAndGlyphs" >4971</text>
<text x="102" y="87.2" font-size="7.0" text-anchor="middle" font-weight="bold" textLength="34" lengthAdjust="spacingAndGlyphs" >Energy (eV)</text>
<text transform="translate(34.7,50) rotate(-90)" font-size="6.9" text-anchor="middle" font-weight="bold" textLength="32.7" lengthAdjust="spacingAndGlyphs">Absorption</text>
<path d="M110.5,179.7 L87.9,65" stroke="#1a1a1a" stroke-width="0.95" fill="none"/>
<path d="M87.1,62.1 L85.4,66.4 L88,65.2 L90.5,65.8 Z" fill="#1a1a1a" stroke="#1a1a1a" stroke-width="0.4" stroke-linejoin="round"/>
<path d="M110.50,181.20 C111.42,181.38 114.25,181.75 116.00,182.30 C117.75,182.85 119.10,183.18 121.00,184.50 C122.90,185.82 125.78,188.05 127.40,190.20 C129.02,192.35 129.75,194.72 130.70,197.40 C131.65,200.08 132.55,203.53 133.10,206.30 C133.65,209.07 133.87,211.85 134.00,214.00 C134.13,216.15 134.58,217.12 133.90,219.20 C133.22,221.28 131.12,224.83 129.90,226.50 C128.68,228.17 128.08,228.75 126.60,229.20 C125.12,229.65 122.62,229.65 121.00,229.20 C119.38,228.75 118.25,227.63 116.90,226.50 C115.55,225.37 114.23,224.42 112.90,222.40 C111.57,220.38 109.68,218.13 108.90,214.40 C108.12,210.67 108.42,204.07 108.20,200.00 C107.98,195.93 107.72,192.45 107.60,190.00 C107.48,187.55 107.38,186.58 107.50,185.30 C107.62,184.02 107.80,182.98 108.30,182.30 C108.80,181.62 110.13,181.38 110.50,181.20" fill="none" stroke="#262626" stroke-width="0.95"/>
<path d="M154.8,162.6H164.7" stroke="#3b55d0" stroke-width="0.7"/><circle cx="159.8" cy="162.6" r="0.8" fill="#2233aa"/>
<path d="M154.8,183.9H164.7" stroke="#ff3030" stroke-width="1.2"/><circle cx="159.8" cy="183.9" r="0.9" fill="#e01010"/>
<path d="M154.8,205.8H164.7" stroke="#4fb57a" stroke-width="1.3"/><circle cx="159.8" cy="205.8" r="1.0" fill="#0c7a30"/>
<text x="166" y="166.3" font-size="8.2" text-anchor="start" font-weight="normal" textLength="182" lengthAdjust="spacingAndGlyphs" >&lt;110&gt; oriented PZN-4.5PT+1%Mn np and k at 45°</text>
<text x="166" y="176.8" font-size="8.2" text-anchor="start" font-weight="normal" textLength="48" lengthAdjust="spacingAndGlyphs" >from//&lt;110&gt;</text>
<text x="166" y="187.9" font-size="8.2" text-anchor="start" font-weight="normal" textLength="161.5" lengthAdjust="spacingAndGlyphs" >&lt;110&gt; oriented PZN-4.5PT np and k//&lt;110&gt;</text>
<text x="166" y="209.7" font-size="8.2" text-anchor="start" font-weight="normal" textLength="161.5" lengthAdjust="spacingAndGlyphs" >&lt;001&gt; oriented PZN-4.5PT np and k//&lt;001&gt;</text>
</svg>
</body></html>
